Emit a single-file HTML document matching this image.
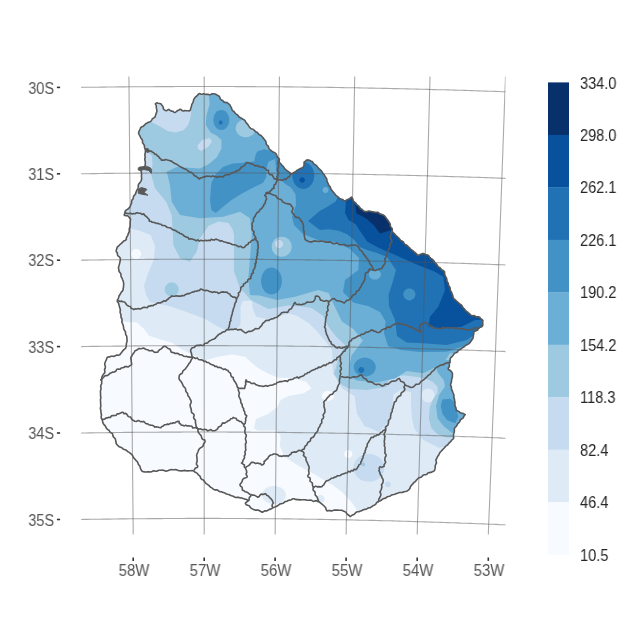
<!DOCTYPE html>
<html><head><meta charset="utf-8"><style>
html,body{margin:0;padding:0;background:#fff;}
body{width:630px;height:630px;position:relative;overflow:hidden;font-family:"Liberation Sans",sans-serif;}
svg{position:absolute;left:0;top:0;}
.yl{position:absolute;left:0;width:54.2px;text-align:right;font-size:15.6px;line-height:17px;color:#555555;transform:scaleX(0.935);transform-origin:100% 0;will-change:transform;}
.xl{position:absolute;top:561.8px;width:60px;text-align:center;font-size:15.6px;line-height:17px;color:#555555;transform:scaleX(0.96);transform-origin:50% 0;will-change:transform;}
.ll{position:absolute;left:579.5px;font-size:15.6px;line-height:17px;color:#262626;transform:scaleX(0.935);transform-origin:0 0;will-change:transform;}
</style></head><body>
<svg width="630" height="630" viewBox="0 0 630 630">
<defs><clipPath id="pc"><rect x="81.2" y="76.5" width="424.3" height="458.0"/></clipPath><clipPath id="cc"><polygon points="155.7,103.9 157.6,102.6 160.8,103.9 162.7,105.8 163.3,109.0 166.5,110.9 169.0,109.6 172.2,110.9 174.1,112.8 177.3,110.9 180.5,109.0 183.0,111.5 184.9,110.2 188.1,111.5 190.6,109.6 191.9,104.5 194.4,98.2 197.0,95.6 198.9,93.7 202.1,94.3 204.6,93.7 208.4,95.0 212.2,93.7 216.0,94.3 219.2,96.3 221.1,100.1 226.2,102.6 230.0,104.5 231.7,109.4 238.3,116.1 245.0,120.6 249.4,127.2 256.1,131.7 263.9,138.3 267.2,145.0 270.0,150.0 275.6,153.3 278.9,158.9 279.4,162.2 282.2,165.6 286.7,170.6 291.7,173.9 295.6,171.7 298.9,168.9 302.2,168.3 304.4,164.4 303.9,162.2 306.7,160.0 309.5,160.0 314.3,163.8 321.0,170.5 325.7,177.1 328.6,184.8 333.3,192.4 339.0,198.1 345.7,201.0 351.4,197.1 354.3,201.9 358.1,205.7 363.8,211.4 369.5,211.4 377.1,212.4 383.8,215.2 388.6,221.0 391.4,227.6 392.8,232.2 400.6,240.0 409.4,247.8 418.3,255.6 422.8,253.3 428.3,255.6 433.9,261.1 438.3,266.7 443.9,271.1 447.2,281.1 450.6,290.0 453.9,298.9 460.6,304.4 466.1,311.1 471.7,315.6 478.3,316.7 482.8,320.0 482.8,325.6 478.3,328.9 473.9,332.2 472.8,338.9 469.4,343.3 463.9,346.7 455.0,353.3 450.6,357.8 449.4,364.4 448.3,368.9 452.8,373.3 451.7,380.0 450.6,385.6 453.9,395.6 455.0,404.4 456.1,410.0 461.7,413.3 465.6,414.4 458.9,422.2 454.4,428.9 453.3,438.9 447.8,444.4 441.1,451.1 436.7,457.8 435.6,465.6 434.4,471.1 427.8,473.3 418.9,477.8 412.2,484.4 407.8,491.1 396.7,493.3 387.8,496.7 378.9,501.1 372.2,506.7 363.3,510.0 356.7,512.2 350.0,516.7 345.6,512.2 341.5,510.2 334.5,510.2 327.5,511.1 324.1,505.9 318.8,501.5 311.8,500.6 304.8,499.8 299.6,499.8 292.6,498.9 283.9,502.4 276.9,505.9 269.9,509.4 262.9,512.0 257.7,510.2 252.5,509.4 249.0,505.9 244.6,503.3 249.0,500.6 242.0,498.0 235.0,497.1 228.3,494.4 219.4,491.1 212.8,488.9 206.1,483.3 201.7,478.9 197.2,473.3 192.8,470.7 179.4,470.7 172.8,469.3 166.1,471.1 161.7,470.0 155.0,471.1 146.1,472.2 141.7,471.1 138.3,463.3 133.9,457.8 130.6,453.3 127.2,451.1 121.7,447.8 117.2,445.6 115.0,438.9 111.7,433.3 106.1,427.8 102.8,422.2 101.7,418.9 100.6,408.9 100.6,400.0 100.6,389.4 101.7,381.7 101.7,377.2 105.0,371.7 105.0,362.8 107.2,357.2 119.4,355.0 126.1,347.2 127.2,338.3 122.8,325.0 120.6,313.9 119.4,305.0 117.2,301.7 119.4,295.0 122.8,290.6 123.9,283.9 121.7,277.2 118.3,268.3 120.6,259.4 116.1,251.7 117.2,247.2 120.6,243.9 126.1,239.4 129.4,230.6 130.6,219.4 128.3,216.1 123.9,215.0 125.0,211.7 130.6,206.1 132.1,200.0 134.5,195.2 137.9,188.6 138.3,184.8 141.2,181.0 141.7,176.2 141.2,171.4 139.3,168.1 146.0,165.7 145.0,162.9 145.0,154.3 145.5,149.5 144.0,145.7 142.1,140.0 139.8,135.8 138.3,132.6 140.6,127.9 147.0,123.1 150.0,121.7 155.1,116.6 157.0,111.5"/></clipPath></defs>
<polygon points="155.7,103.9 157.6,102.6 160.8,103.9 162.7,105.8 163.3,109.0 166.5,110.9 169.0,109.6 172.2,110.9 174.1,112.8 177.3,110.9 180.5,109.0 183.0,111.5 184.9,110.2 188.1,111.5 190.6,109.6 191.9,104.5 194.4,98.2 197.0,95.6 198.9,93.7 202.1,94.3 204.6,93.7 208.4,95.0 212.2,93.7 216.0,94.3 219.2,96.3 221.1,100.1 226.2,102.6 230.0,104.5 231.7,109.4 238.3,116.1 245.0,120.6 249.4,127.2 256.1,131.7 263.9,138.3 267.2,145.0 270.0,150.0 275.6,153.3 278.9,158.9 279.4,162.2 282.2,165.6 286.7,170.6 291.7,173.9 295.6,171.7 298.9,168.9 302.2,168.3 304.4,164.4 303.9,162.2 306.7,160.0 309.5,160.0 314.3,163.8 321.0,170.5 325.7,177.1 328.6,184.8 333.3,192.4 339.0,198.1 345.7,201.0 351.4,197.1 354.3,201.9 358.1,205.7 363.8,211.4 369.5,211.4 377.1,212.4 383.8,215.2 388.6,221.0 391.4,227.6 392.8,232.2 400.6,240.0 409.4,247.8 418.3,255.6 422.8,253.3 428.3,255.6 433.9,261.1 438.3,266.7 443.9,271.1 447.2,281.1 450.6,290.0 453.9,298.9 460.6,304.4 466.1,311.1 471.7,315.6 478.3,316.7 482.8,320.0 482.8,325.6 478.3,328.9 473.9,332.2 472.8,338.9 469.4,343.3 463.9,346.7 455.0,353.3 450.6,357.8 449.4,364.4 448.3,368.9 452.8,373.3 451.7,380.0 450.6,385.6 453.9,395.6 455.0,404.4 456.1,410.0 461.7,413.3 465.6,414.4 458.9,422.2 454.4,428.9 453.3,438.9 447.8,444.4 441.1,451.1 436.7,457.8 435.6,465.6 434.4,471.1 427.8,473.3 418.9,477.8 412.2,484.4 407.8,491.1 396.7,493.3 387.8,496.7 378.9,501.1 372.2,506.7 363.3,510.0 356.7,512.2 350.0,516.7 345.6,512.2 341.5,510.2 334.5,510.2 327.5,511.1 324.1,505.9 318.8,501.5 311.8,500.6 304.8,499.8 299.6,499.8 292.6,498.9 283.9,502.4 276.9,505.9 269.9,509.4 262.9,512.0 257.7,510.2 252.5,509.4 249.0,505.9 244.6,503.3 249.0,500.6 242.0,498.0 235.0,497.1 228.3,494.4 219.4,491.1 212.8,488.9 206.1,483.3 201.7,478.9 197.2,473.3 192.8,470.7 179.4,470.7 172.8,469.3 166.1,471.1 161.7,470.0 155.0,471.1 146.1,472.2 141.7,471.1 138.3,463.3 133.9,457.8 130.6,453.3 127.2,451.1 121.7,447.8 117.2,445.6 115.0,438.9 111.7,433.3 106.1,427.8 102.8,422.2 101.7,418.9 100.6,408.9 100.6,400.0 100.6,389.4 101.7,381.7 101.7,377.2 105.0,371.7 105.0,362.8 107.2,357.2 119.4,355.0 126.1,347.2 127.2,338.3 122.8,325.0 120.6,313.9 119.4,305.0 117.2,301.7 119.4,295.0 122.8,290.6 123.9,283.9 121.7,277.2 118.3,268.3 120.6,259.4 116.1,251.7 117.2,247.2 120.6,243.9 126.1,239.4 129.4,230.6 130.6,219.4 128.3,216.1 123.9,215.0 125.0,211.7 130.6,206.1 132.1,200.0 134.5,195.2 137.9,188.6 138.3,184.8 141.2,181.0 141.7,176.2 141.2,171.4 139.3,168.1 146.0,165.7 145.0,162.9 145.0,154.3 145.5,149.5 144.0,145.7 142.1,140.0 139.8,135.8 138.3,132.6 140.6,127.9 147.0,123.1 150.0,121.7 155.1,116.6 157.0,111.5" fill="#F7FBFF"/>
<g clip-path="url(#cc)">
<path d="M60.0,60.0 520.0,60.0 520.0,540.0 60.0,540.0Z" fill="#DEEBF7"/>
<path d="M60.0,300.0 90.0,321.0 122.9,321.7 136.9,322.6 143.9,328.7 149.1,335.7 159.6,339.2 171.8,342.7 182.3,349.7 192.8,354.9 205.0,360.2 218.3,356.7 231.7,354.4 245.0,356.7 256.1,366.7 267.2,373.3 278.3,377.8 293.6,378.1 306.3,381.9 311.4,388.3 303.7,393.3 288.5,395.9 280.7,400.0 276.9,407.6 267.4,414.3 256.0,419.0 254.0,428.6 257.9,430.5 276.0,430.5 280.7,436.2 279.8,445.7 284.5,457.1 300.0,466.7 311.1,472.2 322.2,478.9 333.3,485.6 342.2,492.2 348.9,498.9 353.3,504.4 356.7,510.0 358.0,520.0 360.0,540.0 60.0,540.0Z" fill="#F7FBFF"/>
<path d="M333.9,395.9 333.7,397.2 333.1,398.4 332.1,399.4 330.9,400.2 329.5,400.7 327.9,400.9 326.3,400.7 324.9,400.2 323.7,399.4 322.7,398.4 322.1,397.2 321.9,395.9 322.1,394.6 322.7,393.4 323.7,392.4 324.9,391.6 326.3,391.1 327.9,390.9 329.5,391.1 330.9,391.6 332.1,392.4 333.1,393.4 333.7,394.6Z" fill="#F7FBFF"/>
<path d="M352.3,454.0 352.2,455.0 351.8,456.0 351.1,456.8 350.3,457.5 349.3,457.9 348.3,458.0 347.3,457.9 346.3,457.5 345.5,456.8 344.8,456.0 344.4,455.0 344.3,454.0 344.4,453.0 344.8,452.0 345.5,451.2 346.3,450.5 347.3,450.1 348.3,450.0 349.3,450.1 350.3,450.5 351.1,451.2 351.8,452.0 352.2,453.0Z" fill="#F7FBFF"/>
<path d="M286.0,495.0 285.6,497.3 284.4,499.5 282.5,501.4 280.0,502.8 277.1,503.7 274.0,504.0 270.9,503.7 268.0,502.8 265.5,501.4 263.6,499.5 262.4,497.3 262.0,495.0 262.4,492.7 263.6,490.5 265.5,488.6 268.0,487.2 270.9,486.3 274.0,486.0 277.1,486.3 280.0,487.2 282.5,488.6 284.4,490.5 285.6,492.7Z" fill="#DEEBF7"/>
<path d="M324.6,498.9 324.5,499.9 324.1,500.9 323.4,501.7 322.6,502.4 321.6,502.8 320.6,502.9 319.6,502.8 318.6,502.4 317.8,501.7 317.1,500.9 316.7,499.9 316.6,498.9 316.7,497.9 317.1,496.9 317.8,496.1 318.6,495.4 319.6,495.0 320.6,494.9 321.6,495.0 322.6,495.4 323.4,496.1 324.1,496.9 324.5,497.9Z" fill="#DEEBF7"/>
<path d="M90.0,228.0 128.3,228.3 139.4,230.6 150.6,235.0 155.0,246.1 153.9,259.4 148.3,272.8 143.9,286.1 146.1,295.0 150.0,302.0 171.7,306.7 195.0,315.0 205.0,318.9 218.3,326.7 227.2,331.1 236.1,330.0 240.6,324.4 240.6,306.7 242.8,301.1 251.7,300.4 252.8,308.9 256.1,316.7 267.2,318.9 280.0,315.7 288.6,313.6 297.1,315.7 308.6,322.9 317.1,331.4 325.7,341.4 332.0,350.0 332.9,373.0 341.8,388.3 354.5,395.9 357.0,413.7 364.7,426.3 370.0,428.0 378.9,432.2 387.8,422.2 392.2,408.9 393.3,395.0 400.0,390.0 411.0,392.0 411.0,405.0 412.2,420.0 414.4,428.9 423.3,440.0 438.9,447.8 455.0,445.0 470.0,440.0 520.0,440.0 520.0,60.0 90.0,60.0Z" fill="#C6DBEF"/>
<path d="M384.4,467.8 383.9,471.4 382.3,474.8 379.9,477.7 376.6,479.9 372.9,481.3 368.9,481.8 364.9,481.3 361.1,479.9 357.9,477.7 355.5,474.8 353.9,471.4 353.4,467.8 353.9,464.2 355.5,460.8 357.9,457.9 361.1,455.7 364.9,454.3 368.9,453.8 372.9,454.3 376.6,455.7 379.9,457.9 382.3,460.8 383.9,464.2Z" fill="#C6DBEF"/>
<path d="M390.8,484.4 390.7,485.2 390.4,485.9 389.9,486.5 389.3,487.0 388.6,487.3 387.8,487.4 387.0,487.3 386.3,487.0 385.7,486.5 385.2,485.9 384.9,485.2 384.8,484.4 384.9,483.6 385.2,482.9 385.7,482.3 386.3,481.8 387.0,481.5 387.8,481.4 388.6,481.5 389.3,481.8 389.9,482.3 390.4,482.9 390.7,483.6Z" fill="#C6DBEF"/>
<path d="M141.1,253.9 140.9,255.2 140.4,256.4 139.6,257.4 138.6,258.2 137.4,258.7 136.1,258.9 134.8,258.7 133.6,258.2 132.6,257.4 131.8,256.4 131.3,255.2 131.1,253.9 131.3,252.6 131.8,251.4 132.6,250.4 133.6,249.6 134.8,249.1 136.1,248.9 137.4,249.1 138.6,249.6 139.6,250.4 140.4,251.4 140.9,252.6Z" fill="#F7FBFF"/>
<path d="M434.5,395.5 434.3,397.3 433.6,399.0 432.6,400.4 431.2,401.6 429.7,402.3 428.0,402.5 426.3,402.3 424.8,401.6 423.4,400.4 422.4,399.0 421.7,397.3 421.5,395.5 421.7,393.7 422.4,392.0 423.4,390.6 424.8,389.4 426.3,388.7 428.0,388.5 429.7,388.7 431.2,389.4 432.6,390.6 433.6,392.0 434.3,393.7Z" fill="#DEEBF7"/>
<path d="M193.0,60.0 520.0,60.0 520.0,437.0 460.0,437.0 447.1,437.5 437.6,434.4 431.3,428.0 428.9,418.5 429.7,407.4 432.9,399.4 437.6,393.1 437.6,386.7 432.9,382.0 426.5,378.8 418.6,377.2 405.9,375.6 390.0,376.0 386.7,386.7 366.7,390.0 350.0,389.0 342.0,385.0 334.0,374.0 338.0,360.0 345.0,345.0 336.2,336.7 328.6,327.1 322.9,315.7 311.4,308.1 300.0,306.2 288.3,305.6 268.3,308.9 250.6,300.0 239.4,286.7 233.9,271.1 233.9,244.4 234.0,235.0 232.9,230.0 228.6,222.9 218.6,221.4 208.6,225.7 200.0,238.3 196.7,251.7 190.0,261.7 180.0,258.3 173.3,245.0 172.8,232.8 171.7,215.0 166.1,201.7 155.0,188.3 151.0,173.9 152.5,164.4 152.0,156.0 146.0,150.0 140.0,135.0 130.0,125.5 142.2,125.5 151.7,122.3 159.7,126.3 167.6,131.0 175.6,132.6 183.5,130.2 188.3,124.7 190.6,116.7 191.4,110.4 193.0,95.0Z" fill="#9ECAE1"/>
<path d="M178.7,289.4 178.5,291.2 177.8,292.9 176.6,294.3 175.2,295.5 173.5,296.2 171.7,296.4 169.9,296.2 168.2,295.5 166.8,294.3 165.6,292.9 164.9,291.2 164.7,289.4 164.9,287.6 165.6,285.9 166.8,284.5 168.2,283.3 169.9,282.6 171.7,282.4 173.5,282.6 175.2,283.3 176.6,284.5 177.8,285.9 178.5,287.6Z" fill="#9ECAE1"/>
<path d="M365.3,464.4 365.2,464.9 365.0,465.4 364.7,465.8 364.3,466.1 363.8,466.3 363.3,466.4 362.8,466.3 362.3,466.1 361.9,465.8 361.6,465.4 361.4,464.9 361.3,464.4 361.4,463.9 361.6,463.4 361.9,463.0 362.3,462.7 362.8,462.5 363.3,462.4 363.8,462.5 364.3,462.7 364.7,463.0 365.0,463.4 365.2,463.9Z" fill="#9ECAE1"/>
<path d="M197.8,145.3 202.5,139.8 209.7,138.2 212.1,141.3 208.1,146.9 201.0,150.9 197.8,148.5Z" fill="#C6DBEF"/>
<path d="M208.0,60.0 520.0,60.0 520.0,350.0 450.0,353.3 443.3,363.3 423.3,373.3 406.7,371.0 395.2,378.6 376.2,382.4 357.1,380.5 349.5,376.7 349.5,365.2 351.4,355.7 357.1,348.1 362.9,340.5 353.3,329.0 341.9,321.4 334.0,305.0 328.6,292.9 318.3,290.0 295.0,296.7 277.2,300.0 259.4,295.6 250.0,295.0 248.3,278.3 250.0,258.3 251.7,235.0 250.0,218.3 240.0,211.7 223.3,216.7 200.0,218.3 180.0,215.0 171.7,201.7 170.0,185.0 166.7,171.7 176.7,167.0 200.0,168.6 208.6,164.3 217.1,157.1 221.4,148.6 221.4,140.0 216.8,135.8 210.5,132.6 205.7,124.7 206.5,115.2 209.7,104.0 208.9,94.5Z" fill="#6BAED6"/>
<path d="M436.0,366.1 437.6,372.5 444.0,380.4 444.8,386.7 439.2,394.7 436.0,405.8 437.6,418.5 444.0,426.4 451.9,432.8 470.0,433.0 470.0,360.0 436.0,360.0Z" fill="#6BAED6"/>
<path d="M255.7,128.3 255.4,130.6 254.4,132.8 252.8,134.7 250.7,136.1 248.3,137.0 245.7,137.3 243.1,137.0 240.7,136.1 238.6,134.7 237.0,132.8 236.0,130.6 235.7,128.3 236.0,126.0 237.0,123.8 238.6,121.9 240.7,120.5 243.1,119.6 245.7,119.3 248.3,119.6 250.7,120.5 252.8,121.9 254.4,123.8 255.4,126.0Z" fill="#9ECAE1"/>
<path d="M291.7,246.7 291.4,249.3 290.4,251.7 288.8,253.8 286.7,255.4 284.3,256.4 281.7,256.7 279.1,256.4 276.7,255.4 274.6,253.8 273.0,251.7 272.0,249.3 271.7,246.7 272.0,244.1 273.0,241.7 274.6,239.6 276.7,238.0 279.1,237.0 281.7,236.7 284.3,237.0 286.7,238.0 288.8,239.6 290.4,241.7 291.4,244.1Z" fill="#9ECAE1"/>
<path d="M283.0,244.0 282.9,245.0 282.5,246.0 281.8,246.8 281.0,247.5 280.0,247.9 279.0,248.0 278.0,247.9 277.0,247.5 276.2,246.8 275.5,246.0 275.1,245.0 275.0,244.0 275.1,243.0 275.5,242.0 276.2,241.2 277.0,240.5 278.0,240.1 279.0,240.0 280.0,240.1 281.0,240.5 281.8,241.2 282.5,242.0 282.9,243.0Z" fill="#C6DBEF"/>
<path d="M229.3,120.0 229.0,122.6 228.2,125.0 227.0,127.1 225.3,128.7 223.4,129.7 221.3,130.0 219.2,129.7 217.3,128.7 215.6,127.1 214.4,125.0 213.6,122.6 213.3,120.0 213.6,117.4 214.4,115.0 215.6,112.9 217.3,111.3 219.2,110.3 221.3,110.0 223.4,110.3 225.3,111.3 227.0,112.9 228.2,115.0 229.0,117.4Z" fill="#4292C6"/>
<path d="M255.0,157.1 257.1,151.4 264.3,149.3 272.9,151.4 277.9,157.1 274.3,159.3 268.6,161.4 266.4,168.6 266.4,177.1 262.9,182.9 254.3,187.1 242.9,192.9 231.4,200.0 222.9,207.1 215.7,212.9 211.4,210.0 210.0,200.0 211.4,182.9 215.7,174.3 222.9,167.1 232.9,163.6 241.4,162.9 248.6,162.1 254.3,161.4Z" fill="#4292C6"/>
<path d="M275.0,158.0 277.0,176.0 284.4,183.3 291.1,187.8 295.6,194.4 296.0,205.0 292.0,217.0 294.0,225.0 303.0,234.0 318.0,240.0 335.0,242.0 350.0,249.0 359.0,258.0 358.3,270.0 345.0,280.0 343.0,292.0 353.3,302.4 368.6,306.2 380.0,311.9 385.7,321.4 384.0,333.0 388.0,346.0 401.0,350.0 420.0,352.0 446.7,351.7 461.7,346.7 478.0,338.0 520.0,330.0 520.0,140.0 282.0,140.0Z" fill="#4292C6"/>
<path d="M282.0,281.0 281.6,284.5 280.6,287.8 278.9,290.5 276.8,292.7 274.2,294.0 271.5,294.5 268.8,294.0 266.2,292.7 264.1,290.5 262.4,287.8 261.4,284.5 261.0,281.0 261.4,277.5 262.4,274.2 264.1,271.5 266.2,269.3 268.8,268.0 271.5,267.5 274.2,268.0 276.8,269.3 278.9,271.5 280.6,274.2 281.6,277.5Z" fill="#4292C6"/>
<path d="M375.8,367.1 375.4,369.6 374.3,371.9 372.6,373.8 370.3,375.3 367.6,376.3 364.8,376.6 362.0,376.3 359.3,375.3 357.0,373.8 355.3,371.9 354.2,369.6 353.8,367.1 354.2,364.6 355.3,362.4 357.0,360.4 359.3,358.9 362.0,357.9 364.8,357.6 367.6,357.9 370.3,358.9 372.6,360.4 374.3,362.4 375.4,364.6Z" fill="#4292C6"/>
<path d="M442.4,399.4 450.3,398.7 455.1,402.6 456.7,410.6 458.3,416.9 455.1,423.3 447.1,420.1 442.4,413.7 440.8,405.8Z" fill="#4292C6"/>
<path d="M380.9,274.6 380.7,275.9 380.1,277.1 379.1,278.1 377.9,278.9 376.5,279.4 374.9,279.6 373.3,279.4 371.9,278.9 370.7,278.1 369.7,277.1 369.1,275.9 368.9,274.6 369.1,273.3 369.7,272.1 370.7,271.1 371.9,270.3 373.3,269.8 374.9,269.6 376.5,269.8 377.9,270.3 379.1,271.1 380.1,272.1 380.7,273.3Z" fill="#6BAED6"/>
<path d="M328.5,190.0 328.4,190.8 328.1,191.5 327.6,192.1 327.0,192.6 326.3,192.9 325.5,193.0 324.7,192.9 324.0,192.6 323.4,192.1 322.9,191.5 322.6,190.8 322.5,190.0 322.6,189.2 322.9,188.5 323.4,187.9 324.0,187.4 324.7,187.1 325.5,187.0 326.3,187.1 327.0,187.4 327.6,187.9 328.1,188.5 328.4,189.2Z" fill="#6BAED6"/>
<path d="M314.3,175.5 313.9,179.0 312.8,182.2 311.1,185.0 308.8,187.2 306.1,188.5 303.3,189.0 300.5,188.5 297.8,187.2 295.5,185.0 293.8,182.2 292.7,179.0 292.3,175.5 292.7,172.0 293.8,168.8 295.5,166.0 297.8,163.8 300.5,162.5 303.3,162.0 306.1,162.5 308.8,163.8 311.1,166.0 312.8,168.8 313.9,172.0Z" fill="#2171B5"/>
<path d="M364.3,370.0 364.2,370.8 363.9,371.5 363.4,372.1 362.8,372.6 362.1,372.9 361.3,373.0 360.5,372.9 359.8,372.6 359.2,372.1 358.7,371.5 358.4,370.8 358.3,370.0 358.4,369.2 358.7,368.5 359.2,367.9 359.8,367.4 360.5,367.1 361.3,367.0 362.1,367.1 362.8,367.4 363.4,367.9 363.9,368.5 364.2,369.2Z" fill="#2171B5"/>
<path d="M222.7,122.5 222.6,123.0 222.4,123.5 222.1,123.9 221.7,124.2 221.2,124.4 220.7,124.5 220.2,124.4 219.7,124.2 219.3,123.9 219.0,123.5 218.8,123.0 218.7,122.5 218.8,122.0 219.0,121.5 219.3,121.1 219.7,120.8 220.2,120.6 220.7,120.5 221.2,120.6 221.7,120.8 222.1,121.1 222.4,121.5 222.6,122.0Z" fill="#2171B5"/>
<path d="M308.0,221.0 320.0,210.7 327.1,207.1 335.7,201.4 345.0,180.0 520.0,180.0 520.0,330.0 478.0,332.0 466.7,340.0 446.7,345.0 423.3,343.3 406.7,342.4 397.0,336.0 395.0,320.0 389.0,306.0 388.6,294.8 393.0,281.0 396.0,270.0 387.1,257.1 377.1,252.9 367.1,250.0 360.0,247.1 354.3,240.0 347.1,234.3 338.6,230.7 328.6,229.3 320.0,230.0Z" fill="#2171B5"/>
<path d="M415.4,294.4 415.2,296.0 414.6,297.4 413.6,298.6 412.4,299.6 411.0,300.2 409.4,300.4 407.8,300.2 406.4,299.6 405.2,298.6 404.2,297.4 403.6,296.0 403.4,294.4 403.6,292.8 404.2,291.4 405.2,290.2 406.4,289.2 407.8,288.6 409.4,288.4 411.0,288.6 412.4,289.2 413.6,290.2 414.6,291.4 415.2,292.8Z" fill="#4292C6"/>
<path d="M304.9,180.0 304.8,180.7 304.5,181.3 304.1,181.9 303.6,182.3 302.9,182.6 302.2,182.7 301.5,182.6 300.8,182.3 300.3,181.9 299.9,181.3 299.6,180.7 299.5,180.0 299.6,179.3 299.9,178.7 300.3,178.1 300.8,177.7 301.5,177.4 302.2,177.3 302.9,177.4 303.6,177.7 304.1,178.1 304.5,178.7 304.8,179.3Z" fill="#08519C"/>
<path d="M346.0,180.0 345.7,205.7 345.0,212.9 348.6,220.0 355.7,224.3 361.4,232.9 367.1,241.4 377.1,247.1 387.1,251.4 397.1,255.7 410.0,261.4 415.0,263.8 435.0,271.7 443.3,276.7 445.0,290.0 438.3,306.7 430.0,316.7 428.3,326.7 441.7,328.3 461.7,326.7 475.0,320.0 520.0,320.0 520.0,180.0Z" fill="#08519C"/>
<path d="M355.0,200.0 395.0,200.0 395.0,232.0 391.4,230.0 380.0,233.6 374.3,225.7 367.1,219.3 361.4,215.7 356.4,213.6Z" fill="#08306B"/>
</g>
<g clip-path="url(#pc)" fill="none" stroke="#555555" stroke-opacity="0.5" stroke-width="1.1">
<polyline points="50.9,-84.9 51.0,-81.0 51.0,-77.1 51.1,-73.2 51.2,-69.3 51.2,-65.4 51.3,-61.5 51.4,-57.6 51.4,-53.7 51.5,-49.8 51.6,-45.9 51.6,-42.0 51.7,-38.1 51.8,-34.2 51.8,-30.3 51.9,-26.3 52.0,-22.4 52.0,-18.5 52.1,-14.6 52.1,-10.7 52.2,-6.8 52.3,-2.9 52.3,1.0 52.4,4.9 52.5,8.8 52.5,12.7 52.6,16.6 52.7,20.5 52.7,24.4 52.8,28.3 52.9,32.2 52.9,36.2 53.0,40.1 53.1,44.0 53.1,47.9 53.2,51.8 53.3,55.7 53.4,59.6 53.4,63.5 53.5,67.4 53.6,71.3 53.6,75.2 53.7,79.1 53.8,83.0 53.8,86.9 53.9,90.8 54.0,94.8 54.0,98.7 54.1,102.6 54.2,106.5 54.2,110.4 54.3,114.3 54.4,118.2 54.4,122.1 54.5,126.0 54.6,129.9 54.7,133.8 54.7,137.7 54.8,141.6 54.9,145.5 54.9,149.4 55.0,153.4 55.1,157.3 55.1,161.2 55.2,165.1 55.3,169.0 55.3,172.9 55.4,176.8 55.5,180.7 55.6,184.6 55.6,188.5 55.7,192.4 55.8,196.3 55.8,200.2 55.9,204.1 56.0,208.1 56.1,212.0 56.1,215.9 56.2,219.8 56.3,223.7 56.3,227.6 56.4,231.5 56.5,235.4 56.6,239.3 56.6,243.2 56.7,247.1 56.8,251.0 56.8,254.9 56.9,258.9 57.0,262.8 57.1,266.7 57.1,270.6 57.2,274.5 57.3,278.4 57.4,282.3 57.4,286.2 57.5,290.1 57.6,294.0 57.6,297.9 57.7,301.8 57.8,305.7 57.9,309.7 57.9,313.6 58.0,317.5 58.1,321.4 58.2,325.3 58.2,329.2 58.3,333.1 58.4,337.0 58.5,340.9 58.5,344.8 58.6,348.7 58.7,352.6 58.8,356.5 58.8,360.5 58.9,364.4 59.0,368.3 59.1,372.2 59.1,376.1 59.2,380.0 59.3,383.9 59.4,387.8 59.4,391.7 59.5,395.6 59.6,399.5 59.7,403.5 59.7,407.4 59.8,411.3 59.9,415.2 60.0,419.1 60.0,423.0 60.1,426.9 60.2,430.8 60.3,434.7 60.3,438.6 60.4,442.5 60.5,446.4 60.6,450.4 60.6,454.3 60.7,458.2 60.8,462.1 60.9,466.0 61.0,469.9 61.0,473.8 61.1,477.7 61.2,481.6 61.3,485.5 61.3,489.4 61.4,493.4 61.5,497.3 61.6,501.2 61.6,505.1 61.7,509.0 61.8,512.9 61.9,516.8 62.0,520.7 62.0,524.6 62.1,528.5 62.2,532.4 62.3,536.4 62.4,540.3 62.4,544.2 62.5,548.1 62.6,552.0 62.7,555.9 62.7,559.8 62.8,563.7 62.9,567.6 63.0,571.5 63.1,575.5 63.1,579.4 63.2,583.3 63.3,587.2 63.4,591.1 63.5,595.0 63.5,598.9 63.6,602.8 63.7,606.7 63.8,610.6 63.9,614.6 63.9,618.5 64.0,622.4 64.1,626.3 64.2,630.2 64.3,634.1 64.4,638.0 64.4,641.9 64.5,645.8 64.6,649.7 64.7,653.7 64.8,657.6 64.8,661.5 64.9,665.4 65.0,669.3 65.1,673.2 65.2,677.1 65.2,681.0 65.3,684.9 65.4,688.8 65.5,692.8"/>
<polyline points="127.6,-85.9 127.6,-82.0 127.6,-78.1 127.7,-74.2 127.7,-70.3 127.7,-66.3 127.7,-62.4 127.8,-58.5 127.8,-54.6 127.8,-50.7 127.9,-46.8 127.9,-42.9 127.9,-39.0 128.0,-35.1 128.0,-31.2 128.0,-27.3 128.1,-23.4 128.1,-19.5 128.1,-15.6 128.2,-11.7 128.2,-7.8 128.2,-3.9 128.3,0.0 128.3,3.9 128.3,7.8 128.4,11.7 128.4,15.7 128.4,19.6 128.5,23.5 128.5,27.4 128.5,31.3 128.6,35.2 128.6,39.1 128.6,43.0 128.7,46.9 128.7,50.8 128.7,54.7 128.8,58.6 128.8,62.5 128.8,66.4 128.9,70.3 128.9,74.2 128.9,78.1 129.0,82.0 129.0,86.0 129.0,89.9 129.1,93.8 129.1,97.7 129.1,101.6 129.2,105.5 129.2,109.4 129.2,113.3 129.3,117.2 129.3,121.1 129.4,125.0 129.4,128.9 129.4,132.8 129.5,136.7 129.5,140.6 129.5,144.5 129.6,148.4 129.6,152.4 129.6,156.3 129.7,160.2 129.7,164.1 129.7,168.0 129.8,171.9 129.8,175.8 129.8,179.7 129.9,183.6 129.9,187.5 129.9,191.4 130.0,195.3 130.0,199.2 130.1,203.1 130.1,207.0 130.1,210.9 130.2,214.9 130.2,218.8 130.2,222.7 130.3,226.6 130.3,230.5 130.3,234.4 130.4,238.3 130.4,242.2 130.4,246.1 130.5,250.0 130.5,253.9 130.6,257.8 130.6,261.7 130.6,265.6 130.7,269.6 130.7,273.5 130.7,277.4 130.8,281.3 130.8,285.2 130.8,289.1 130.9,293.0 130.9,296.9 131.0,300.8 131.0,304.7 131.0,308.6 131.1,312.5 131.1,316.4 131.1,320.3 131.2,324.3 131.2,328.2 131.2,332.1 131.3,336.0 131.3,339.9 131.4,343.8 131.4,347.7 131.4,351.6 131.5,355.5 131.5,359.4 131.5,363.3 131.6,367.2 131.6,371.1 131.7,375.0 131.7,379.0 131.7,382.9 131.8,386.8 131.8,390.7 131.8,394.6 131.9,398.5 131.9,402.4 132.0,406.3 132.0,410.2 132.0,414.1 132.1,418.0 132.1,421.9 132.1,425.9 132.2,429.8 132.2,433.7 132.3,437.6 132.3,441.5 132.3,445.4 132.4,449.3 132.4,453.2 132.5,457.1 132.5,461.0 132.5,464.9 132.6,468.8 132.6,472.7 132.6,476.7 132.7,480.6 132.7,484.5 132.8,488.4 132.8,492.3 132.8,496.2 132.9,500.1 132.9,504.0 133.0,507.9 133.0,511.8 133.0,515.7 133.1,519.7 133.1,523.6 133.2,527.5 133.2,531.4 133.2,535.3 133.3,539.2 133.3,543.1 133.3,547.0 133.4,550.9 133.4,554.8 133.5,558.7 133.5,562.6 133.5,566.6 133.6,570.5 133.6,574.4 133.7,578.3 133.7,582.2 133.7,586.1 133.8,590.0 133.8,593.9 133.9,597.8 133.9,601.7 133.9,605.7 134.0,609.6 134.0,613.5 134.1,617.4 134.1,621.3 134.1,625.2 134.2,629.1 134.2,633.0 134.3,636.9 134.3,640.8 134.3,644.7 134.4,648.7 134.4,652.6 134.5,656.5 134.5,660.4 134.6,664.3 134.6,668.2 134.6,672.1 134.7,676.0 134.7,679.9 134.8,683.8 134.8,687.8 134.8,691.7"/>
<polyline points="204.2,-86.2 204.2,-82.3 204.2,-78.4 204.2,-74.5 204.2,-70.6 204.2,-66.7 204.2,-62.8 204.2,-58.9 204.2,-55.0 204.2,-51.0 204.2,-47.1 204.2,-43.2 204.2,-39.3 204.2,-35.4 204.2,-31.5 204.2,-27.6 204.2,-23.7 204.2,-19.8 204.2,-15.9 204.2,-12.0 204.2,-8.1 204.2,-4.2 204.2,-0.3 204.2,3.6 204.2,7.5 204.2,11.4 204.2,15.3 204.2,19.2 204.2,23.1 204.2,27.0 204.2,31.0 204.2,34.9 204.2,38.8 204.2,42.7 204.2,46.6 204.2,50.5 204.2,54.4 204.2,58.3 204.2,62.2 204.2,66.1 204.2,70.0 204.2,73.9 204.2,77.8 204.2,81.7 204.2,85.6 204.2,89.5 204.2,93.4 204.2,97.3 204.2,101.2 204.2,105.2 204.2,109.1 204.2,113.0 204.2,116.9 204.2,120.8 204.2,124.7 204.2,128.6 204.2,132.5 204.2,136.4 204.2,140.3 204.2,144.2 204.2,148.1 204.2,152.0 204.2,155.9 204.2,159.8 204.2,163.7 204.2,167.6 204.2,171.6 204.2,175.5 204.2,179.4 204.2,183.3 204.2,187.2 204.2,191.1 204.2,195.0 204.2,198.9 204.2,202.8 204.2,206.7 204.2,210.6 204.2,214.5 204.2,218.4 204.2,222.3 204.2,226.2 204.2,230.1 204.2,234.0 204.2,238.0 204.2,241.9 204.2,245.8 204.2,249.7 204.2,253.6 204.2,257.5 204.2,261.4 204.2,265.3 204.2,269.2 204.2,273.1 204.2,277.0 204.2,280.9 204.2,284.8 204.2,288.7 204.2,292.6 204.2,296.6 204.2,300.5 204.2,304.4 204.2,308.3 204.2,312.2 204.2,316.1 204.2,320.0 204.2,323.9 204.2,327.8 204.2,331.7 204.2,335.6 204.2,339.5 204.2,343.4 204.2,347.3 204.2,351.3 204.2,355.2 204.2,359.1 204.2,363.0 204.2,366.9 204.2,370.8 204.2,374.7 204.2,378.6 204.2,382.5 204.2,386.4 204.2,390.3 204.2,394.2 204.2,398.1 204.2,402.1 204.2,406.0 204.2,409.9 204.2,413.8 204.2,417.7 204.2,421.6 204.2,425.5 204.2,429.4 204.2,433.3 204.2,437.2 204.2,441.1 204.2,445.0 204.2,448.9 204.2,452.9 204.2,456.8 204.2,460.7 204.2,464.6 204.2,468.5 204.2,472.4 204.2,476.3 204.2,480.2 204.2,484.1 204.2,488.0 204.2,491.9 204.2,495.8 204.2,499.8 204.2,503.7 204.2,507.6 204.2,511.5 204.2,515.4 204.2,519.3 204.2,523.2 204.2,527.1 204.2,531.0 204.2,534.9 204.2,538.8 204.2,542.7 204.2,546.7 204.2,550.6 204.2,554.5 204.2,558.4 204.2,562.3 204.2,566.2 204.2,570.1 204.2,574.0 204.2,577.9 204.2,581.8 204.2,585.7 204.2,589.7 204.2,593.6 204.2,597.5 204.2,601.4 204.2,605.3 204.2,609.2 204.2,613.1 204.2,617.0 204.2,620.9 204.2,624.8 204.2,628.7 204.2,632.7 204.2,636.6 204.2,640.5 204.2,644.4 204.2,648.3 204.2,652.2 204.2,656.1 204.2,660.0 204.2,663.9 204.2,667.8 204.2,671.8 204.2,675.7 204.2,679.6 204.2,683.5 204.2,687.4 204.2,691.3"/>
<polyline points="280.8,-85.9 280.8,-82.0 280.7,-78.1 280.7,-74.2 280.7,-70.3 280.6,-66.3 280.6,-62.4 280.6,-58.5 280.5,-54.6 280.5,-50.7 280.5,-46.8 280.4,-42.9 280.4,-39.0 280.4,-35.1 280.4,-31.2 280.3,-27.3 280.3,-23.4 280.3,-19.5 280.2,-15.6 280.2,-11.7 280.2,-7.8 280.1,-3.9 280.1,0.0 280.1,3.9 280.0,7.8 280.0,11.7 280.0,15.7 279.9,19.6 279.9,23.5 279.9,27.4 279.8,31.3 279.8,35.2 279.8,39.1 279.7,43.0 279.7,46.9 279.7,50.8 279.6,54.7 279.6,58.6 279.6,62.5 279.5,66.4 279.5,70.3 279.5,74.2 279.4,78.1 279.4,82.0 279.4,86.0 279.3,89.9 279.3,93.8 279.2,97.7 279.2,101.6 279.2,105.5 279.1,109.4 279.1,113.3 279.1,117.2 279.0,121.1 279.0,125.0 279.0,128.9 278.9,132.8 278.9,136.7 278.9,140.6 278.8,144.5 278.8,148.4 278.8,152.4 278.7,156.3 278.7,160.2 278.7,164.1 278.6,168.0 278.6,171.9 278.6,175.8 278.5,179.7 278.5,183.6 278.4,187.5 278.4,191.4 278.4,195.3 278.3,199.2 278.3,203.1 278.3,207.0 278.2,210.9 278.2,214.9 278.2,218.8 278.1,222.7 278.1,226.6 278.1,230.5 278.0,234.4 278.0,238.3 278.0,242.2 277.9,246.1 277.9,250.0 277.8,253.9 277.8,257.8 277.8,261.7 277.7,265.6 277.7,269.6 277.7,273.5 277.6,277.4 277.6,281.3 277.6,285.2 277.5,289.1 277.5,293.0 277.4,296.9 277.4,300.8 277.4,304.7 277.3,308.6 277.3,312.5 277.3,316.4 277.2,320.3 277.2,324.3 277.1,328.2 277.1,332.1 277.1,336.0 277.0,339.9 277.0,343.8 277.0,347.7 276.9,351.6 276.9,355.5 276.9,359.4 276.8,363.3 276.8,367.2 276.7,371.1 276.7,375.0 276.7,379.0 276.6,382.9 276.6,386.8 276.6,390.7 276.5,394.6 276.5,398.5 276.4,402.4 276.4,406.3 276.4,410.2 276.3,414.1 276.3,418.0 276.2,421.9 276.2,425.9 276.2,429.8 276.1,433.7 276.1,437.6 276.1,441.5 276.0,445.4 276.0,449.3 275.9,453.2 275.9,457.1 275.9,461.0 275.8,464.9 275.8,468.8 275.8,472.7 275.7,476.7 275.7,480.6 275.6,484.5 275.6,488.4 275.6,492.3 275.5,496.2 275.5,500.1 275.4,504.0 275.4,507.9 275.4,511.8 275.3,515.7 275.3,519.7 275.2,523.6 275.2,527.5 275.2,531.4 275.1,535.3 275.1,539.2 275.0,543.1 275.0,547.0 275.0,550.9 274.9,554.8 274.9,558.7 274.9,562.6 274.8,566.6 274.8,570.5 274.7,574.4 274.7,578.3 274.7,582.2 274.6,586.1 274.6,590.0 274.5,593.9 274.5,597.8 274.5,601.7 274.4,605.7 274.4,609.6 274.3,613.5 274.3,617.4 274.3,621.3 274.2,625.2 274.2,629.1 274.1,633.0 274.1,636.9 274.1,640.8 274.0,644.7 274.0,648.7 273.9,652.6 273.9,656.5 273.8,660.4 273.8,664.3 273.8,668.2 273.7,672.1 273.7,676.0 273.6,679.9 273.6,683.8 273.6,687.8 273.5,691.7"/>
<polyline points="357.4,-84.9 357.4,-81.0 357.3,-77.1 357.3,-73.2 357.2,-69.3 357.1,-65.4 357.1,-61.5 357.0,-57.6 356.9,-53.7 356.9,-49.8 356.8,-45.9 356.7,-42.0 356.7,-38.1 356.6,-34.2 356.5,-30.3 356.5,-26.3 356.4,-22.4 356.3,-18.5 356.3,-14.6 356.2,-10.7 356.1,-6.8 356.1,-2.9 356.0,1.0 355.9,4.9 355.9,8.8 355.8,12.7 355.7,16.6 355.7,20.5 355.6,24.4 355.5,28.3 355.5,32.2 355.4,36.2 355.3,40.1 355.3,44.0 355.2,47.9 355.1,51.8 355.1,55.7 355.0,59.6 354.9,63.5 354.9,67.4 354.8,71.3 354.7,75.2 354.7,79.1 354.6,83.0 354.5,86.9 354.5,90.8 354.4,94.8 354.3,98.7 354.3,102.6 354.2,106.5 354.1,110.4 354.1,114.3 354.0,118.2 353.9,122.1 353.8,126.0 353.8,129.9 353.7,133.8 353.6,137.7 353.6,141.6 353.5,145.5 353.4,149.4 353.4,153.4 353.3,157.3 353.2,161.2 353.2,165.1 353.1,169.0 353.0,172.9 352.9,176.8 352.9,180.7 352.8,184.6 352.7,188.5 352.7,192.4 352.6,196.3 352.5,200.2 352.4,204.1 352.4,208.1 352.3,212.0 352.2,215.9 352.2,219.8 352.1,223.7 352.0,227.6 351.9,231.5 351.9,235.4 351.8,239.3 351.7,243.2 351.7,247.1 351.6,251.0 351.5,254.9 351.4,258.9 351.4,262.8 351.3,266.7 351.2,270.6 351.2,274.5 351.1,278.4 351.0,282.3 350.9,286.2 350.9,290.1 350.8,294.0 350.7,297.9 350.6,301.8 350.6,305.7 350.5,309.7 350.4,313.6 350.3,317.5 350.3,321.4 350.2,325.3 350.1,329.2 350.1,333.1 350.0,337.0 349.9,340.9 349.8,344.8 349.8,348.7 349.7,352.6 349.6,356.5 349.5,360.5 349.5,364.4 349.4,368.3 349.3,372.2 349.2,376.1 349.2,380.0 349.1,383.9 349.0,387.8 348.9,391.7 348.9,395.6 348.8,399.5 348.7,403.5 348.6,407.4 348.6,411.3 348.5,415.2 348.4,419.1 348.3,423.0 348.3,426.9 348.2,430.8 348.1,434.7 348.0,438.6 347.9,442.5 347.9,446.4 347.8,450.4 347.7,454.3 347.6,458.2 347.6,462.1 347.5,466.0 347.4,469.9 347.3,473.8 347.3,477.7 347.2,481.6 347.1,485.5 347.0,489.4 346.9,493.4 346.9,497.3 346.8,501.2 346.7,505.1 346.6,509.0 346.6,512.9 346.5,516.8 346.4,520.7 346.3,524.6 346.2,528.5 346.2,532.4 346.1,536.4 346.0,540.3 345.9,544.2 345.8,548.1 345.8,552.0 345.7,555.9 345.6,559.8 345.5,563.7 345.5,567.6 345.4,571.5 345.3,575.5 345.2,579.4 345.1,583.3 345.1,587.2 345.0,591.1 344.9,595.0 344.8,598.9 344.7,602.8 344.7,606.7 344.6,610.6 344.5,614.6 344.4,618.5 344.3,622.4 344.3,626.3 344.2,630.2 344.1,634.1 344.0,638.0 343.9,641.9 343.8,645.8 343.8,649.7 343.7,653.7 343.6,657.6 343.5,661.5 343.4,665.4 343.4,669.3 343.3,673.2 343.2,677.1 343.1,681.0 343.0,684.9 342.9,688.8 342.9,692.8"/>
<polyline points="434.1,-83.4 434.0,-79.5 433.9,-75.5 433.8,-71.6 433.7,-67.7 433.6,-63.8 433.5,-59.9 433.4,-56.0 433.3,-52.1 433.2,-48.2 433.1,-44.3 433.0,-40.4 432.9,-36.5 432.8,-32.6 432.7,-28.7 432.6,-24.7 432.6,-20.8 432.5,-16.9 432.4,-13.0 432.3,-9.1 432.2,-5.2 432.1,-1.3 432.0,2.6 431.9,6.5 431.8,10.4 431.7,14.3 431.6,18.2 431.5,22.1 431.4,26.1 431.3,30.0 431.2,33.9 431.1,37.8 431.0,41.7 430.9,45.6 430.8,49.5 430.7,53.4 430.6,57.3 430.5,61.2 430.4,65.1 430.2,69.0 430.1,72.9 430.0,76.9 429.9,80.8 429.8,84.7 429.7,88.6 429.6,92.5 429.5,96.4 429.4,100.3 429.3,104.2 429.2,108.1 429.1,112.0 429.0,115.9 428.9,119.8 428.8,123.8 428.7,127.7 428.6,131.6 428.5,135.5 428.4,139.4 428.3,143.3 428.2,147.2 428.1,151.1 428.0,155.0 427.9,158.9 427.8,162.8 427.7,166.7 427.6,170.7 427.5,174.6 427.3,178.5 427.2,182.4 427.1,186.3 427.0,190.2 426.9,194.1 426.8,198.0 426.7,201.9 426.6,205.8 426.5,209.7 426.4,213.6 426.3,217.6 426.2,221.5 426.1,225.4 426.0,229.3 425.9,233.2 425.7,237.1 425.6,241.0 425.5,244.9 425.4,248.8 425.3,252.7 425.2,256.6 425.1,260.6 425.0,264.5 424.9,268.4 424.8,272.3 424.7,276.2 424.6,280.1 424.4,284.0 424.3,287.9 424.2,291.8 424.1,295.7 424.0,299.6 423.9,303.6 423.8,307.5 423.7,311.4 423.6,315.3 423.5,319.2 423.3,323.1 423.2,327.0 423.1,330.9 423.0,334.8 422.9,338.7 422.8,342.6 422.7,346.6 422.6,350.5 422.5,354.4 422.3,358.3 422.2,362.2 422.1,366.1 422.0,370.0 421.9,373.9 421.8,377.8 421.7,381.7 421.6,385.7 421.4,389.6 421.3,393.5 421.2,397.4 421.1,401.3 421.0,405.2 420.9,409.1 420.8,413.0 420.7,416.9 420.5,420.8 420.4,424.7 420.3,428.7 420.2,432.6 420.1,436.5 420.0,440.4 419.8,444.3 419.7,448.2 419.6,452.1 419.5,456.0 419.4,459.9 419.3,463.8 419.2,467.8 419.0,471.7 418.9,475.6 418.8,479.5 418.7,483.4 418.6,487.3 418.5,491.2 418.3,495.1 418.2,499.0 418.1,502.9 418.0,506.9 417.9,510.8 417.8,514.7 417.6,518.6 417.5,522.5 417.4,526.4 417.3,530.3 417.2,534.2 417.1,538.1 416.9,542.1 416.8,546.0 416.7,549.9 416.6,553.8 416.5,557.7 416.3,561.6 416.2,565.5 416.1,569.4 416.0,573.3 415.9,577.2 415.7,581.2 415.6,585.1 415.5,589.0 415.4,592.9 415.3,596.8 415.1,600.7 415.0,604.6 414.9,608.5 414.8,612.4 414.7,616.4 414.5,620.3 414.4,624.2 414.3,628.1 414.2,632.0 414.1,635.9 413.9,639.8 413.8,643.7 413.7,647.6 413.6,651.6 413.5,655.5 413.3,659.4 413.2,663.3 413.1,667.2 413.0,671.1 412.8,675.0 412.7,678.9 412.6,682.8 412.5,686.8 412.3,690.7 412.2,694.6"/>
<polyline points="510.8,-81.2 510.7,-77.2 510.6,-73.3 510.4,-69.4 510.3,-65.5 510.2,-61.6 510.0,-57.7 509.9,-53.8 509.8,-49.9 509.6,-46.0 509.5,-42.1 509.4,-38.2 509.3,-34.2 509.1,-30.3 509.0,-26.4 508.9,-22.5 508.7,-18.6 508.6,-14.7 508.5,-10.8 508.3,-6.9 508.2,-3.0 508.1,0.9 507.9,4.9 507.8,8.8 507.7,12.7 507.5,16.6 507.4,20.5 507.3,24.4 507.1,28.3 507.0,32.2 506.9,36.1 506.7,40.0 506.6,44.0 506.5,47.9 506.3,51.8 506.2,55.7 506.1,59.6 505.9,63.5 505.8,67.4 505.7,71.3 505.5,75.2 505.4,79.1 505.3,83.1 505.1,87.0 505.0,90.9 504.8,94.8 504.7,98.7 504.6,102.6 504.4,106.5 504.3,110.4 504.2,114.3 504.0,118.3 503.9,122.2 503.7,126.1 503.6,130.0 503.5,133.9 503.3,137.8 503.2,141.7 503.0,145.6 502.9,149.5 502.8,153.4 502.6,157.4 502.5,161.3 502.3,165.2 502.2,169.1 502.1,173.0 501.9,176.9 501.8,180.8 501.6,184.7 501.5,188.6 501.4,192.5 501.2,196.5 501.1,200.4 500.9,204.3 500.8,208.2 500.7,212.1 500.5,216.0 500.4,219.9 500.2,223.8 500.1,227.7 499.9,231.7 499.8,235.6 499.7,239.5 499.5,243.4 499.4,247.3 499.2,251.2 499.1,255.1 498.9,259.0 498.8,262.9 498.6,266.9 498.5,270.8 498.4,274.7 498.2,278.6 498.1,282.5 497.9,286.4 497.8,290.3 497.6,294.2 497.5,298.1 497.3,302.0 497.2,306.0 497.0,309.9 496.9,313.8 496.7,317.7 496.6,321.6 496.4,325.5 496.3,329.4 496.1,333.3 496.0,337.2 495.9,341.2 495.7,345.1 495.6,349.0 495.4,352.9 495.3,356.8 495.1,360.7 495.0,364.6 494.8,368.5 494.7,372.4 494.5,376.4 494.4,380.3 494.2,384.2 494.1,388.1 493.9,392.0 493.8,395.9 493.6,399.8 493.5,403.7 493.3,407.7 493.2,411.6 493.0,415.5 492.8,419.4 492.7,423.3 492.5,427.2 492.4,431.1 492.2,435.0 492.1,438.9 491.9,442.9 491.8,446.8 491.6,450.7 491.5,454.6 491.3,458.5 491.2,462.4 491.0,466.3 490.9,470.2 490.7,474.1 490.5,478.1 490.4,482.0 490.2,485.9 490.1,489.8 489.9,493.7 489.8,497.6 489.6,501.5 489.5,505.4 489.3,509.4 489.1,513.3 489.0,517.2 488.8,521.1 488.7,525.0 488.5,528.9 488.4,532.8 488.2,536.7 488.0,540.6 487.9,544.6 487.7,548.5 487.6,552.4 487.4,556.3 487.3,560.2 487.1,564.1 486.9,568.0 486.8,571.9 486.6,575.9 486.5,579.8 486.3,583.7 486.1,587.6 486.0,591.5 485.8,595.4 485.7,599.3 485.5,603.2 485.3,607.1 485.2,611.1 485.0,615.0 484.9,618.9 484.7,622.8 484.5,626.7 484.4,630.6 484.2,634.5 484.0,638.4 483.9,642.4 483.7,646.3 483.6,650.2 483.4,654.1 483.2,658.0 483.1,661.9 482.9,665.8 482.7,669.7 482.6,673.7 482.4,677.6 482.3,681.5 482.1,685.4 481.9,689.3 481.8,693.2 481.6,697.1"/>
<polyline points="587.6,-78.3 587.4,-74.4 587.2,-70.5 587.1,-66.6 586.9,-62.7 586.8,-58.8 586.6,-54.8 586.4,-50.9 586.3,-47.0 586.1,-43.1 585.9,-39.2 585.8,-35.3 585.6,-31.4 585.5,-27.5 585.3,-23.5 585.1,-19.6 585.0,-15.7 584.8,-11.8 584.6,-7.9 584.5,-4.0 584.3,-0.1 584.1,3.8 584.0,7.8 583.8,11.7 583.6,15.6 583.5,19.5 583.3,23.4 583.1,27.3 583.0,31.2 582.8,35.1 582.6,39.1 582.5,43.0 582.3,46.9 582.1,50.8 582.0,54.7 581.8,58.6 581.6,62.5 581.5,66.5 581.3,70.4 581.1,74.3 580.9,78.2 580.8,82.1 580.6,86.0 580.4,89.9 580.3,93.8 580.1,97.8 579.9,101.7 579.8,105.6 579.6,109.5 579.4,113.4 579.2,117.3 579.1,121.2 578.9,125.1 578.7,129.1 578.5,133.0 578.4,136.9 578.2,140.8 578.0,144.7 577.8,148.6 577.7,152.5 577.5,156.4 577.3,160.4 577.1,164.3 577.0,168.2 576.8,172.1 576.6,176.0 576.4,179.9 576.3,183.8 576.1,187.8 575.9,191.7 575.7,195.6 575.6,199.5 575.4,203.4 575.2,207.3 575.0,211.2 574.9,215.1 574.7,219.1 574.5,223.0 574.3,226.9 574.1,230.8 574.0,234.7 573.8,238.6 573.6,242.5 573.4,246.4 573.2,250.4 573.1,254.3 572.9,258.2 572.7,262.1 572.5,266.0 572.3,269.9 572.1,273.8 572.0,277.8 571.8,281.7 571.6,285.6 571.4,289.5 571.2,293.4 571.1,297.3 570.9,301.2 570.7,305.1 570.5,309.1 570.3,313.0 570.1,316.9 570.0,320.8 569.8,324.7 569.6,328.6 569.4,332.5 569.2,336.5 569.0,340.4 568.8,344.3 568.7,348.2 568.5,352.1 568.3,356.0 568.1,359.9 567.9,363.8 567.7,367.8 567.5,371.7 567.3,375.6 567.2,379.5 567.0,383.4 566.8,387.3 566.6,391.2 566.4,395.2 566.2,399.1 566.0,403.0 565.8,406.9 565.6,410.8 565.5,414.7 565.3,418.6 565.1,422.5 564.9,426.5 564.7,430.4 564.5,434.3 564.3,438.2 564.1,442.1 563.9,446.0 563.7,449.9 563.5,453.9 563.4,457.8 563.2,461.7 563.0,465.6 562.8,469.5 562.6,473.4 562.4,477.3 562.2,481.2 562.0,485.2 561.8,489.1 561.6,493.0 561.4,496.9 561.2,500.8 561.0,504.7 560.8,508.6 560.6,512.6 560.4,516.5 560.2,520.4 560.1,524.3 559.9,528.2 559.7,532.1 559.5,536.0 559.3,540.0 559.1,543.9 558.9,547.8 558.7,551.7 558.5,555.6 558.3,559.5 558.1,563.4 557.9,567.3 557.7,571.3 557.5,575.2 557.3,579.1 557.1,583.0 556.9,586.9 556.7,590.8 556.5,594.7 556.3,598.7 556.1,602.6 555.9,606.5 555.7,610.4 555.5,614.3 555.3,618.2 555.1,622.1 554.9,626.1 554.7,630.0 554.5,633.9 554.3,637.8 554.1,641.7 553.9,645.6 553.7,649.5 553.5,653.5 553.3,657.4 553.0,661.3 552.8,665.2 552.6,669.1 552.4,673.0 552.2,676.9 552.0,680.8 551.8,684.8 551.6,688.7 551.4,692.6 551.2,696.5 551.0,700.4"/>
<polyline points="-21.4,89.4 -18.0,89.4 -14.6,89.3 -11.2,89.2 -7.8,89.1 -4.4,89.0 -0.9,88.9 2.5,88.9 5.9,88.8 9.3,88.7 12.7,88.6 16.1,88.5 19.5,88.5 22.9,88.4 26.3,88.3 29.7,88.3 33.1,88.2 36.5,88.1 39.9,88.1 43.3,88.0 46.7,87.9 50.1,87.9 53.5,87.8 56.9,87.8 60.3,87.7 63.7,87.6 67.1,87.6 70.5,87.5 73.9,87.5 77.3,87.4 80.7,87.4 84.1,87.3 87.5,87.3 90.9,87.2 94.3,87.2 97.7,87.2 101.1,87.1 104.5,87.1 107.9,87.0 111.3,87.0 114.7,87.0 118.1,86.9 121.5,86.9 124.9,86.9 128.3,86.8 131.7,86.8 135.1,86.8 138.5,86.7 141.9,86.7 145.3,86.7 148.7,86.7 152.1,86.7 155.5,86.6 158.9,86.6 162.3,86.6 165.7,86.6 169.1,86.6 172.5,86.6 175.9,86.5 179.3,86.5 182.7,86.5 186.1,86.5 189.4,86.5 192.8,86.5 196.2,86.5 199.6,86.5 203.0,86.5 206.4,86.5 209.8,86.5 213.2,86.5 216.6,86.5 220.0,86.5 223.4,86.5 226.8,86.5 230.2,86.5 233.6,86.5 237.0,86.6 240.4,86.6 243.8,86.6 247.2,86.6 250.6,86.6 254.0,86.6 257.4,86.7 260.8,86.7 264.2,86.7 267.6,86.7 271.0,86.8 274.4,86.8 277.8,86.8 281.2,86.8 284.6,86.9 288.0,86.9 291.4,86.9 294.8,87.0 298.2,87.0 301.6,87.0 305.0,87.1 308.4,87.1 311.8,87.2 315.2,87.2 318.6,87.3 322.0,87.3 325.4,87.3 328.8,87.4 332.2,87.4 335.6,87.5 339.0,87.5 342.4,87.6 345.8,87.7 349.2,87.7 352.6,87.8 356.0,87.8 359.4,87.9 362.8,88.0 366.2,88.0 369.6,88.1 373.0,88.1 376.4,88.2 379.8,88.3 383.2,88.4 386.6,88.4 390.0,88.5 393.4,88.6 396.8,88.6 400.2,88.7 403.6,88.8 407.0,88.9 410.4,89.0 413.8,89.0 417.2,89.1 420.6,89.2 424.0,89.3 427.4,89.4 430.9,89.5 434.3,89.6 437.7,89.7 441.1,89.8 444.5,89.8 447.9,89.9 451.3,90.0 454.7,90.1 458.1,90.2 461.5,90.3 464.9,90.4 468.3,90.5 471.7,90.6 475.1,90.8 478.5,90.9 481.9,91.0 485.3,91.1 488.7,91.2 492.1,91.3 495.5,91.4 498.9,91.5 502.3,91.7 505.7,91.8 509.1,91.9 512.5,92.0 515.9,92.1 519.3,92.3 522.7,92.4 526.1,92.5 529.5,92.6 532.9,92.8 536.3,92.9 539.7,93.0 543.2,93.2 546.6,93.3 550.0,93.4 553.4,93.6 556.8,93.7 560.2,93.9 563.6,94.0 567.0,94.1 570.4,94.3 573.8,94.4 577.2,94.6 580.6,94.7 584.0,94.9 587.4,95.0 590.8,95.2 594.2,95.3 597.6,95.5 601.0,95.6 604.5,95.8 607.9,96.0 611.3,96.1 614.7,96.3 618.1,96.4 621.5,96.6 624.9,96.8 628.3,96.9 631.7,97.1 635.1,97.3 638.5,97.5 641.9,97.6 645.3,97.8 648.7,98.0 652.2,98.2 655.6,98.3"/>
<polyline points="-19.1,175.9 -15.7,175.8 -12.3,175.7 -9.0,175.6 -5.6,175.5 -2.2,175.4 1.1,175.3 4.5,175.3 7.9,175.2 11.2,175.1 14.6,175.0 18.0,174.9 21.3,174.9 24.7,174.8 28.1,174.7 31.4,174.7 34.8,174.6 38.2,174.5 41.5,174.5 44.9,174.4 48.3,174.3 51.6,174.3 55.0,174.2 58.4,174.1 61.7,174.1 65.1,174.0 68.5,174.0 71.8,173.9 75.2,173.9 78.6,173.8 81.9,173.8 85.3,173.7 88.7,173.7 92.0,173.6 95.4,173.6 98.7,173.5 102.1,173.5 105.5,173.4 108.8,173.4 112.2,173.4 115.6,173.3 118.9,173.3 122.3,173.3 125.7,173.2 129.0,173.2 132.4,173.2 135.8,173.1 139.1,173.1 142.5,173.1 145.9,173.1 149.2,173.0 152.6,173.0 156.0,173.0 159.3,173.0 162.7,173.0 166.0,172.9 169.4,172.9 172.8,172.9 176.1,172.9 179.5,172.9 182.9,172.9 186.2,172.9 189.6,172.9 193.0,172.9 196.3,172.9 199.7,172.9 203.1,172.9 206.4,172.9 209.8,172.9 213.2,172.9 216.5,172.9 219.9,172.9 223.2,172.9 226.6,172.9 230.0,172.9 233.3,172.9 236.7,172.9 240.1,172.9 243.4,172.9 246.8,173.0 250.2,173.0 253.5,173.0 256.9,173.0 260.3,173.0 263.6,173.1 267.0,173.1 270.4,173.1 273.7,173.1 277.1,173.2 280.4,173.2 283.8,173.2 287.2,173.3 290.5,173.3 293.9,173.3 297.3,173.4 300.6,173.4 304.0,173.5 307.4,173.5 310.7,173.5 314.1,173.6 317.5,173.6 320.8,173.7 324.2,173.7 327.6,173.8 330.9,173.8 334.3,173.9 337.7,173.9 341.0,174.0 344.4,174.0 347.8,174.1 351.1,174.2 354.5,174.2 357.8,174.3 361.2,174.3 364.6,174.4 367.9,174.5 371.3,174.5 374.7,174.6 378.0,174.7 381.4,174.8 384.8,174.8 388.1,174.9 391.5,175.0 394.9,175.0 398.2,175.1 401.6,175.2 405.0,175.3 408.3,175.4 411.7,175.5 415.1,175.5 418.4,175.6 421.8,175.7 425.2,175.8 428.5,175.9 431.9,176.0 435.3,176.1 438.6,176.2 442.0,176.3 445.4,176.4 448.7,176.5 452.1,176.6 455.5,176.7 458.8,176.8 462.2,176.9 465.6,177.0 468.9,177.1 472.3,177.2 475.7,177.3 479.1,177.4 482.4,177.5 485.8,177.6 489.2,177.8 492.5,177.9 495.9,178.0 499.3,178.1 502.6,178.2 506.0,178.4 509.4,178.5 512.7,178.6 516.1,178.7 519.5,178.9 522.8,179.0 526.2,179.1 529.6,179.3 533.0,179.4 536.3,179.5 539.7,179.7 543.1,179.8 546.4,179.9 549.8,180.1 553.2,180.2 556.5,180.4 559.9,180.5 563.3,180.6 566.6,180.8 570.0,180.9 573.4,181.1 576.8,181.2 580.1,181.4 583.5,181.6 586.9,181.7 590.2,181.9 593.6,182.0 597.0,182.2 600.4,182.3 603.7,182.5 607.1,182.7 610.5,182.8 613.8,183.0 617.2,183.2 620.6,183.3 624.0,183.5 627.3,183.7 630.7,183.9 634.1,184.0 637.5,184.2 640.8,184.4 644.2,184.6 647.6,184.7 650.9,184.9"/>
<polyline points="-16.7,262.3 -13.4,262.2 -10.0,262.1 -6.7,262.0 -3.4,261.9 -0.0,261.8 3.3,261.8 6.6,261.7 10.0,261.6 13.3,261.5 16.6,261.4 19.9,261.4 23.3,261.3 26.6,261.2 29.9,261.1 33.3,261.1 36.6,261.0 39.9,260.9 43.3,260.9 46.6,260.8 49.9,260.7 53.2,260.7 56.6,260.6 59.9,260.5 63.2,260.5 66.6,260.4 69.9,260.4 73.2,260.3 76.6,260.2 79.9,260.2 83.2,260.1 86.5,260.1 89.9,260.0 93.2,260.0 96.5,260.0 99.9,259.9 103.2,259.9 106.5,259.8 109.9,259.8 113.2,259.7 116.5,259.7 119.8,259.7 123.2,259.6 126.5,259.6 129.8,259.6 133.2,259.5 136.5,259.5 139.8,259.5 143.1,259.5 146.5,259.4 149.8,259.4 153.1,259.4 156.5,259.4 159.8,259.3 163.1,259.3 166.4,259.3 169.8,259.3 173.1,259.3 176.4,259.3 179.8,259.3 183.1,259.3 186.4,259.2 189.8,259.2 193.1,259.2 196.4,259.2 199.7,259.2 203.1,259.2 206.4,259.2 209.7,259.2 213.1,259.2 216.4,259.2 219.7,259.2 223.0,259.2 226.4,259.3 229.7,259.3 233.0,259.3 236.4,259.3 239.7,259.3 243.0,259.3 246.3,259.3 249.7,259.4 253.0,259.4 256.3,259.4 259.7,259.4 263.0,259.4 266.3,259.5 269.7,259.5 273.0,259.5 276.3,259.6 279.6,259.6 283.0,259.6 286.3,259.6 289.6,259.7 293.0,259.7 296.3,259.8 299.6,259.8 302.9,259.8 306.3,259.9 309.6,259.9 312.9,260.0 316.3,260.0 319.6,260.1 322.9,260.1 326.3,260.2 329.6,260.2 332.9,260.3 336.2,260.3 339.6,260.4 342.9,260.4 346.2,260.5 349.6,260.6 352.9,260.6 356.2,260.7 359.6,260.7 362.9,260.8 366.2,260.9 369.5,260.9 372.9,261.0 376.2,261.1 379.5,261.2 382.9,261.2 386.2,261.3 389.5,261.4 392.9,261.5 396.2,261.5 399.5,261.6 402.8,261.7 406.2,261.8 409.5,261.9 412.8,262.0 416.2,262.0 419.5,262.1 422.8,262.2 426.2,262.3 429.5,262.4 432.8,262.5 436.2,262.6 439.5,262.7 442.8,262.8 446.1,262.9 449.5,263.0 452.8,263.1 456.1,263.2 459.5,263.3 462.8,263.4 466.1,263.5 469.5,263.6 472.8,263.8 476.1,263.9 479.5,264.0 482.8,264.1 486.1,264.2 489.5,264.3 492.8,264.5 496.1,264.6 499.5,264.7 502.8,264.8 506.1,265.0 509.5,265.1 512.8,265.2 516.1,265.3 519.5,265.5 522.8,265.6 526.1,265.7 529.5,265.9 532.8,266.0 536.1,266.2 539.5,266.3 542.8,266.4 546.1,266.6 549.5,266.7 552.8,266.9 556.1,267.0 559.5,267.2 562.8,267.3 566.1,267.5 569.5,267.6 572.8,267.8 576.1,267.9 579.5,268.1 582.8,268.2 586.1,268.4 589.5,268.6 592.8,268.7 596.1,268.9 599.5,269.1 602.8,269.2 606.2,269.4 609.5,269.6 612.8,269.7 616.2,269.9 619.5,270.1 622.8,270.3 626.2,270.4 629.5,270.6 632.8,270.8 636.2,271.0 639.5,271.1 642.9,271.3 646.2,271.5"/>
<polyline points="-14.3,348.7 -11.0,348.6 -7.7,348.5 -4.4,348.5 -1.1,348.4 2.2,348.3 5.5,348.2 8.8,348.1 12.1,348.0 15.4,347.9 18.7,347.9 22.0,347.8 25.3,347.7 28.6,347.6 31.9,347.6 35.1,347.5 38.4,347.4 41.7,347.3 45.0,347.3 48.3,347.2 51.6,347.1 54.9,347.1 58.2,347.0 61.5,346.9 64.8,346.9 68.1,346.8 71.4,346.8 74.7,346.7 78.0,346.7 81.3,346.6 84.5,346.5 87.8,346.5 91.1,346.4 94.4,346.4 97.7,346.4 101.0,346.3 104.3,346.3 107.6,346.2 110.9,346.2 114.2,346.1 117.5,346.1 120.8,346.1 124.1,346.0 127.4,346.0 130.6,346.0 133.9,345.9 137.2,345.9 140.5,345.9 143.8,345.8 147.1,345.8 150.4,345.8 153.7,345.8 157.0,345.8 160.3,345.7 163.6,345.7 166.9,345.7 170.2,345.7 173.5,345.7 176.7,345.7 180.0,345.6 183.3,345.6 186.6,345.6 189.9,345.6 193.2,345.6 196.5,345.6 199.8,345.6 203.1,345.6 206.4,345.6 209.7,345.6 213.0,345.6 216.3,345.6 219.5,345.6 222.8,345.6 226.1,345.6 229.4,345.7 232.7,345.7 236.0,345.7 239.3,345.7 242.6,345.7 245.9,345.7 249.2,345.7 252.5,345.8 255.8,345.8 259.1,345.8 262.3,345.8 265.6,345.9 268.9,345.9 272.2,345.9 275.5,345.9 278.8,346.0 282.1,346.0 285.4,346.0 288.7,346.1 292.0,346.1 295.3,346.2 298.6,346.2 301.9,346.2 305.2,346.3 308.4,346.3 311.7,346.4 315.0,346.4 318.3,346.5 321.6,346.5 324.9,346.6 328.2,346.6 331.5,346.7 334.8,346.7 338.1,346.8 341.4,346.8 344.7,346.9 348.0,347.0 351.3,347.0 354.5,347.1 357.8,347.2 361.1,347.2 364.4,347.3 367.7,347.4 371.0,347.4 374.3,347.5 377.6,347.6 380.9,347.7 384.2,347.7 387.5,347.8 390.8,347.9 394.1,348.0 397.4,348.0 400.7,348.1 404.0,348.2 407.2,348.3 410.5,348.4 413.8,348.5 417.1,348.6 420.4,348.7 423.7,348.8 427.0,348.9 430.3,349.0 433.6,349.0 436.9,349.1 440.2,349.2 443.5,349.4 446.8,349.5 450.1,349.6 453.4,349.7 456.7,349.8 460.0,349.9 463.3,350.0 466.5,350.1 469.8,350.2 473.1,350.3 476.4,350.5 479.7,350.6 483.0,350.7 486.3,350.8 489.6,350.9 492.9,351.1 496.2,351.2 499.5,351.3 502.8,351.4 506.1,351.6 509.4,351.7 512.7,351.8 516.0,352.0 519.3,352.1 522.6,352.2 525.9,352.4 529.2,352.5 532.5,352.7 535.8,352.8 539.1,352.9 542.4,353.1 545.7,353.2 548.9,353.4 552.2,353.5 555.5,353.7 558.8,353.8 562.1,354.0 565.4,354.1 568.7,354.3 572.0,354.5 575.3,354.6 578.6,354.8 581.9,354.9 585.2,355.1 588.5,355.3 591.8,355.4 595.1,355.6 598.4,355.8 601.7,355.9 605.0,356.1 608.3,356.3 611.6,356.5 614.9,356.6 618.2,356.8 621.5,357.0 624.8,357.2 628.1,357.4 631.4,357.5 634.7,357.7 638.0,357.9 641.3,358.1"/>
<polyline points="-11.8,435.2 -8.5,435.1 -5.2,435.0 -2.0,434.9 1.3,434.8 4.5,434.7 7.8,434.6 11.0,434.5 14.3,434.5 17.5,434.4 20.8,434.3 24.1,434.2 27.3,434.1 30.6,434.1 33.8,434.0 37.1,433.9 40.3,433.8 43.6,433.8 46.9,433.7 50.1,433.6 53.4,433.6 56.6,433.5 59.9,433.4 63.1,433.4 66.4,433.3 69.6,433.2 72.9,433.2 76.2,433.1 79.4,433.1 82.7,433.0 85.9,433.0 89.2,432.9 92.4,432.9 95.7,432.8 98.9,432.8 102.2,432.7 105.4,432.7 108.7,432.6 112.0,432.6 115.2,432.5 118.5,432.5 121.7,432.5 125.0,432.4 128.2,432.4 131.5,432.4 134.7,432.3 138.0,432.3 141.3,432.3 144.5,432.3 147.8,432.2 151.0,432.2 154.3,432.2 157.5,432.2 160.8,432.1 164.0,432.1 167.3,432.1 170.5,432.1 173.8,432.1 177.1,432.1 180.3,432.1 183.6,432.0 186.8,432.0 190.1,432.0 193.3,432.0 196.6,432.0 199.8,432.0 203.1,432.0 206.3,432.0 209.6,432.0 212.9,432.0 216.1,432.0 219.4,432.0 222.6,432.0 225.9,432.0 229.1,432.1 232.4,432.1 235.6,432.1 238.9,432.1 242.2,432.1 245.4,432.1 248.7,432.1 251.9,432.2 255.2,432.2 258.4,432.2 261.7,432.2 264.9,432.3 268.2,432.3 271.4,432.3 274.7,432.3 278.0,432.4 281.2,432.4 284.5,432.4 287.7,432.5 291.0,432.5 294.2,432.6 297.5,432.6 300.7,432.6 304.0,432.7 307.3,432.7 310.5,432.8 313.8,432.8 317.0,432.9 320.3,432.9 323.5,433.0 326.8,433.0 330.0,433.1 333.3,433.1 336.5,433.2 339.8,433.3 343.1,433.3 346.3,433.4 349.6,433.4 352.8,433.5 356.1,433.6 359.3,433.6 362.6,433.7 365.8,433.8 369.1,433.9 372.4,433.9 375.6,434.0 378.9,434.1 382.1,434.2 385.4,434.2 388.6,434.3 391.9,434.4 395.2,434.5 398.4,434.6 401.7,434.7 404.9,434.7 408.2,434.8 411.4,434.9 414.7,435.0 417.9,435.1 421.2,435.2 424.5,435.3 427.7,435.4 431.0,435.5 434.2,435.6 437.5,435.7 440.7,435.8 444.0,435.9 447.3,436.0 450.5,436.1 453.8,436.2 457.0,436.3 460.3,436.5 463.5,436.6 466.8,436.7 470.1,436.8 473.3,436.9 476.6,437.0 479.8,437.2 483.1,437.3 486.3,437.4 489.6,437.5 492.9,437.7 496.1,437.8 499.4,437.9 502.6,438.1 505.9,438.2 509.1,438.3 512.4,438.5 515.7,438.6 518.9,438.7 522.2,438.9 525.4,439.0 528.7,439.2 532.0,439.3 535.2,439.4 538.5,439.6 541.7,439.7 545.0,439.9 548.3,440.0 551.5,440.2 554.8,440.4 558.0,440.5 561.3,440.7 564.5,440.8 567.8,441.0 571.1,441.1 574.3,441.3 577.6,441.5 580.8,441.6 584.1,441.8 587.4,442.0 590.6,442.2 593.9,442.3 597.1,442.5 600.4,442.7 603.7,442.8 606.9,443.0 610.2,443.2 613.4,443.4 616.7,443.6 620.0,443.8 623.2,443.9 626.5,444.1 629.8,444.3 633.0,444.5 636.3,444.7"/>
<polyline points="-9.2,521.6 -6.0,521.5 -2.8,521.4 0.5,521.3 3.7,521.3 6.9,521.2 10.1,521.1 13.3,521.0 16.5,520.9 19.8,520.8 23.0,520.7 26.2,520.7 29.4,520.6 32.6,520.5 35.9,520.4 39.1,520.3 42.3,520.3 45.5,520.2 48.7,520.1 51.9,520.1 55.2,520.0 58.4,519.9 61.6,519.9 64.8,519.8 68.0,519.7 71.2,519.7 74.5,519.6 77.7,519.6 80.9,519.5 84.1,519.4 87.3,519.4 90.5,519.3 93.8,519.3 97.0,519.2 100.2,519.2 103.4,519.1 106.6,519.1 109.8,519.1 113.1,519.0 116.3,519.0 119.5,518.9 122.7,518.9 125.9,518.9 129.1,518.8 132.4,518.8 135.6,518.8 138.8,518.7 142.0,518.7 145.2,518.7 148.4,518.6 151.6,518.6 154.9,518.6 158.1,518.6 161.3,518.6 164.5,518.5 167.7,518.5 170.9,518.5 174.2,518.5 177.4,518.5 180.6,518.5 183.8,518.5 187.0,518.4 190.2,518.4 193.5,518.4 196.7,518.4 199.9,518.4 203.1,518.4 206.3,518.4 209.5,518.4 212.8,518.4 216.0,518.4 219.2,518.4 222.4,518.5 225.6,518.5 228.8,518.5 232.1,518.5 235.3,518.5 238.5,518.5 241.7,518.5 244.9,518.5 248.1,518.6 251.4,518.6 254.6,518.6 257.8,518.6 261.0,518.7 264.2,518.7 267.4,518.7 270.6,518.7 273.9,518.8 277.1,518.8 280.3,518.8 283.5,518.9 286.7,518.9 289.9,518.9 293.2,519.0 296.4,519.0 299.6,519.1 302.8,519.1 306.0,519.2 309.2,519.2 312.5,519.3 315.7,519.3 318.9,519.4 322.1,519.4 325.3,519.5 328.5,519.5 331.8,519.6 335.0,519.6 338.2,519.7 341.4,519.8 344.6,519.8 347.8,519.9 351.1,519.9 354.3,520.0 357.5,520.1 360.7,520.2 363.9,520.2 367.1,520.3 370.4,520.4 373.6,520.4 376.8,520.5 380.0,520.6 383.2,520.7 386.4,520.8 389.7,520.8 392.9,520.9 396.1,521.0 399.3,521.1 402.5,521.2 405.8,521.3 409.0,521.4 412.2,521.5 415.4,521.6 418.6,521.7 421.8,521.8 425.1,521.9 428.3,522.0 431.5,522.1 434.7,522.2 437.9,522.3 441.1,522.4 444.4,522.5 447.6,522.6 450.8,522.7 454.0,522.8 457.2,522.9 460.5,523.1 463.7,523.2 466.9,523.3 470.1,523.4 473.3,523.5 476.5,523.7 479.8,523.8 483.0,523.9 486.2,524.0 489.4,524.2 492.6,524.3 495.9,524.4 499.1,524.6 502.3,524.7 505.5,524.8 508.7,525.0 512.0,525.1 515.2,525.2 518.4,525.4 521.6,525.5 524.8,525.7 528.1,525.8 531.3,526.0 534.5,526.1 537.7,526.3 540.9,526.4 544.2,526.6 547.4,526.7 550.6,526.9 553.8,527.0 557.0,527.2 560.3,527.4 563.5,527.5 566.7,527.7 569.9,527.9 573.1,528.0 576.4,528.2 579.6,528.4 582.8,528.5 586.0,528.7 589.2,528.9 592.5,529.1 595.7,529.2 598.9,529.4 602.1,529.6 605.3,529.8 608.6,530.0 611.8,530.1 615.0,530.3 618.2,530.5 621.5,530.7 624.7,530.9 627.9,531.1 631.1,531.3"/>
</g>
<g fill="none" stroke="#585858" stroke-width="1.6" stroke-linejoin="round">
<polyline points="145.4,150.1 146.9,150.2 148.4,150.3 149.6,151.3 151.4,151.0 152.4,152.3 153.9,152.8 154.7,154.2 156.4,154.4 157.2,155.8 158.7,156.5 159.3,158.0 160.7,158.7 161.4,160.3 162.9,160.1 164.4,160.1 165.8,159.5 167.3,160.0 168.7,160.2 170.1,160.9 171.6,161.1 172.7,162.3 174.1,163.0 175.3,163.8 176.8,164.3 178.0,165.2 179.2,166.1 180.5,166.8 181.9,167.5 183.2,168.2 184.5,168.9 186.1,169.2 187.2,170.3 188.4,171.1 189.6,172.2 191.3,172.3 192.4,173.4 193.6,174.3 194.3,175.8 196.0,176.1 197.0,177.2 198.2,178.0 199.5,179.0 200.7,177.7 202.3,177.6 203.6,176.7 205.2,176.9 206.5,175.9 208.1,176.5 209.6,176.1 211.1,176.8 212.6,175.8 214.1,176.5 215.6,176.6 217.0,177.5 218.6,176.5 220.0,176.8 221.4,176.4 223.2,176.9 224.3,175.6 225.7,175.0 227.1,174.5 228.8,174.8 230.1,173.9 231.4,173.2 232.8,172.6 234.4,172.4 235.6,171.5 236.9,170.7 238.4,170.4 239.7,169.5 240.6,168.2 241.4,166.9 243.0,166.4 244.3,165.6 245.3,164.5 246.0,162.9 247.6,162.6 248.8,162.8 250.0,163.7 251.8,163.5 252.9,164.6 254.3,165.1 255.7,166.0 257.4,165.4 258.6,166.5 260.2,166.6 261.5,167.4 263.2,166.9 264.4,168.1 265.6,168.9 266.6,170.1 268.5,170.4 268.3,172.3 269.0,173.6 270.1,174.8 272.1,174.6 272.8,176.2 273.6,177.5 274.3,179.0 276.2,178.9 277.4,179.8"/>
<polyline points="277.4,179.8 277.6,178.3 276.8,176.8 277.6,175.3 277.9,173.8 278.6,172.3 277.3,170.8 277.5,169.3 277.9,167.8 278.7,166.3 278.1,164.8 277.9,163.3 278.2,161.8 278.5,160.3 278.9,158.9"/>
<polyline points="277.4,179.8 279.1,179.7 280.7,179.9 282.4,180.5 283.9,179.1 285.7,179.7 286.8,178.3 288.1,177.3 289.6,176.5 290.2,174.8 291.7,173.9"/>
<polyline points="277.4,179.8 276.8,181.2 276.0,182.5 275.8,184.0 274.2,184.9 273.8,186.4 274.0,188.2 272.2,188.8 271.6,190.3 270.2,190.9 269.5,192.5 267.7,192.3 266.2,192.8 265.8,194.2 264.7,195.5 266.1,196.4 266.2,197.9 266.6,199.4 265.6,200.6 265.3,202.1 265.1,203.7 263.7,204.6 263.6,206.3 262.3,207.2 261.7,208.7 260.2,209.3 259.4,210.6 258.7,212.0 257.1,212.6 256.3,213.9 255.4,215.1 255.1,216.6 253.8,217.6 253.4,219.1 253.6,220.7 252.9,222.1 252.0,223.4 252.0,225.0 252.3,226.5 252.0,227.9 252.1,229.5 253.1,230.7 254.1,232.0 253.6,233.7 254.2,235.1 255.1,236.4 255.8,237.7 255.8,239.3 256.3,240.7 257.8,241.7 257.6,243.4 258.3,244.8 257.8,246.2 258.3,247.8 257.8,249.2 257.3,250.7 258.0,252.3 257.0,253.7 257.6,255.3 256.6,256.6 256.9,258.2 256.3,259.6 255.9,261.1 256.3,262.7 254.9,263.9 255.6,265.6 254.7,266.9 254.7,268.5 253.5,269.7 253.0,271.1 253.4,272.9 251.6,273.8 251.6,275.4 250.7,276.6 250.9,278.5 249.1,278.9 247.8,279.8 247.6,281.7 246.0,282.3 245.0,283.4 243.5,284.0 243.4,286.0 241.9,286.6 240.7,287.7 240.8,289.4 240.3,290.8 239.7,292.2 238.3,293.2 238.7,295.0 238.1,296.4 237.1,297.6 236.6,299.0 236.3,300.5 236.0,302.0 235.0,303.2 234.7,304.7 234.4,306.2 233.9,307.6 233.3,309.0 233.1,310.5 232.5,311.9 232.3,313.4 231.9,314.8 231.5,316.3 231.1,317.7 230.6,319.2 230.9,320.8 229.7,322.0 229.8,323.6 229.4,325.0 229.3,326.5 228.6,327.9 228.3,329.4"/>
<polyline points="265.6,193.3 267.1,193.5 268.6,193.4 270.1,193.4 271.5,194.2 272.8,194.7 274.2,195.3 275.8,195.5 276.6,197.1 277.6,198.2 278.9,199.0 280.5,199.3 281.7,200.2 282.5,201.7 283.9,202.4 285.1,203.2 286.7,203.5 288.0,203.9 289.5,204.1 290.8,204.7 291.2,205.9 292.5,207.0 293.0,208.5 292.7,210.0 291.7,211.4 292.3,213.0 293.4,213.8 294.3,215.0 295.0,216.5 296.2,217.4 297.9,217.3 299.2,218.1 300.2,219.3 300.9,220.7 302.0,221.7 302.7,223.0 303.1,224.4 303.5,225.9 303.4,227.4 303.5,228.9 303.5,230.4 304.3,231.8 304.1,233.4 304.3,234.9 304.4,236.4 304.8,237.8 305.0,239.2 306.1,240.4 307.7,240.8 308.7,241.8 310.2,241.8 311.7,242.1 313.1,241.3 314.6,240.9 316.1,241.2 317.7,241.3 319.1,241.4 320.7,240.9 322.1,241.3 323.7,241.3 325.1,241.9 326.6,242.1 328.1,242.1 329.7,241.9 331.2,242.2 332.4,243.4 333.9,243.6 335.5,243.4 337.1,243.0 338.4,244.1 339.8,244.8 341.4,244.7 343.0,244.5 344.5,244.5 345.8,245.5 347.3,245.6 348.8,246.0 350.3,245.3 351.8,245.1 353.3,245.0 354.8,245.2 356.1,245.3 357.5,245.8 358.4,247.0 359.3,248.3 359.7,249.8 361.1,250.6 362.2,251.7 363.0,253.0 363.7,254.3 364.6,255.5 365.9,256.5 366.4,258.0 367.5,259.0 368.3,260.3 369.2,261.5 369.6,263.0 370.3,264.4 371.4,265.4 372.0,266.8 372.9,268.1 373.2,269.6 374.3,270.5 375.8,270.4 377.2,269.7 378.6,269.2 380.1,269.1 381.5,268.4 382.7,267.4 383.0,265.7 384.1,264.9 384.8,263.5 385.5,262.1 384.9,260.5 384.8,258.9 385.8,257.6 386.5,256.3 387.2,254.9 387.0,253.3 387.6,251.9 388.0,250.4 389.0,249.2 389.6,247.8 389.8,246.3 390.0,244.7 390.4,243.3 391.9,242.1 391.6,240.5 391.0,239.0 390.2,237.6 390.8,236.0 391.0,234.6 391.1,233.2 391.7,231.8 392.4,230.5"/>
<polyline points="374.1,270.6 372.7,270.0 371.3,269.5 369.9,268.9 368.8,270.1 368.3,271.7 366.9,272.5 365.4,273.2 365.3,274.8 365.2,276.3 364.9,277.8 364.8,279.3 364.2,280.7 363.6,282.0 362.8,283.3 361.8,284.5 361.3,285.9 360.6,287.3 359.6,288.4 359.1,289.9 357.8,290.8 356.5,291.5 356.0,293.2 355.1,294.4 353.3,294.7 352.3,295.9 351.6,297.3 350.4,298.3 349.6,299.6 348.2,300.3 346.5,300.4 345.5,301.7 344.3,302.9 342.8,302.3 341.4,301.6 340.0,301.2 338.5,300.8 336.9,300.7 335.6,299.9 334.5,298.8 333.0,298.6 331.6,299.4 330.5,300.5 329.3,301.6 327.7,301.0 326.3,300.6 324.7,301.3 323.2,300.9 321.8,300.3 320.4,300.1 319.9,298.5 319.3,297.1 318.1,296.3 317.0,296.1 315.4,296.3 315.3,297.9 314.9,299.3 314.1,300.6 313.5,301.4 312.0,301.9 310.6,302.2 309.0,302.3 307.4,302.0 306.1,302.8 304.8,303.8 303.4,304.1 302.0,304.6 300.5,304.8 299.3,304.2 297.6,304.5 296.1,304.2 295.0,302.4 293.8,303.8 293.5,305.3 292.5,306.5 291.8,307.9 290.9,309.0 289.2,309.6 288.5,310.9 287.7,312.4 286.0,312.3 284.5,312.2 283.0,312.4 281.5,312.8 280.7,314.1 279.6,315.1 278.3,316.0 277.3,317.1 275.9,317.6 274.4,318.0 273.1,318.8 271.6,318.9 270.1,319.4 268.9,320.4 267.3,320.4 265.8,320.5 264.7,321.8 263.7,322.6 262.5,323.6 262.0,325.1 261.0,326.2 260.0,327.1 259.0,328.4 257.5,328.8 255.8,328.5 254.5,329.3 253.2,330.3 251.9,331.0 250.4,331.4 248.8,331.3 247.4,331.9 246.1,333.0 244.7,332.4 243.4,331.6 242.2,330.6 241.1,329.5 239.4,329.6 237.9,330.1 236.4,329.1 234.9,329.1 233.4,329.6 231.9,329.2 230.4,329.5 229.0,329.8 227.4,329.5 226.1,330.3 225.0,331.6 223.5,331.8 222.1,332.4 220.9,333.4 219.5,333.9 218.3,334.9 217.3,335.9 216.2,337.0 215.3,338.3 214.0,339.0 212.5,339.4 211.2,340.1 209.8,340.8 208.6,341.6 207.7,342.9 206.0,343.2 204.5,343.6 203.7,345.2 202.2,345.6 200.6,345.1 199.2,345.4 197.6,345.4 196.1,345.5 195.0,346.7 193.9,347.5 192.2,347.8 191.2,349.0 190.6,350.4 190.8,351.6 191.4,353.0 191.6,354.5 191.9,356.0 192.8,357.3 191.2,357.3 189.7,357.1 188.2,356.9 186.8,356.4 185.3,356.5 183.7,356.3 182.6,355.2 181.1,354.7 179.5,354.7 178.3,353.6 176.8,353.3 175.2,353.5 173.9,352.7 172.4,352.4 171.0,351.9 170.6,350.2 169.7,349.0 168.1,348.4 167.0,347.6 165.8,346.5 164.4,346.2 163.0,347.0 162.0,348.2 160.9,349.1 159.5,349.8 158.5,350.9 157.8,352.1 156.4,352.2 154.8,352.4 153.4,351.5 152.2,350.4 150.5,350.8 148.9,350.7 147.7,349.7 146.2,349.5 144.8,348.8 143.5,348.0 141.9,348.5 140.6,348.8 138.9,348.5 137.7,349.3 136.5,350.3 135.0,350.8 134.3,352.1 133.5,353.4 132.5,354.5 131.9,355.9 131.0,357.1 130.8,358.6 131.2,360.0 131.2,361.6 131.5,363.0 131.7,364.6 130.8,365.2 129.6,365.9 128.3,367.0 126.7,366.6 125.1,366.5 123.8,367.5 122.3,367.7 120.9,368.3 119.8,369.3 118.0,369.1 116.6,369.6 115.7,371.3 114.4,372.0 112.8,372.1 111.4,372.7 110.0,373.3 108.9,374.3 107.7,375.4 106.1,375.6 104.7,376.1 103.6,377.2 102.6,378.3 101.5,379.4 100.2,380.2"/>
<polyline points="328.6,301.4 328.4,302.9 328.9,304.5 327.8,305.9 327.6,307.4 327.8,308.9 328.1,310.5 326.9,311.8 326.5,313.3 327.2,314.9 326.2,316.3 326.0,317.8 325.7,319.3 325.6,320.8 325.4,322.3 325.1,323.8 325.3,325.3 324.4,326.8 325.3,328.2 325.7,329.7 325.5,331.2 326.3,332.6 326.4,334.2 327.3,335.4 327.7,336.9 328.4,338.2 329.0,339.6 329.6,341.0 331.0,341.9 331.2,343.7 332.3,344.7 333.9,345.2 334.8,346.4 335.9,347.5 337.4,348.0 339.0,347.1 340.4,348.0 341.9,348.2 343.3,347.5 344.8,347.2 346.2,346.4 347.9,346.6 348.8,345.6 349.0,344.1 349.0,342.6 349.6,341.2 351.3,340.8 351.9,339.1 353.3,338.4 354.8,338.1 356.1,337.2 357.4,336.5 358.7,335.8 360.3,335.5 361.4,334.3 363.0,334.2 364.4,333.7 365.5,332.4 367.1,332.3 368.5,331.8 369.9,331.2 371.1,330.1 372.6,330.1 373.8,331.2 375.5,331.3 376.6,332.2 378.0,332.6 379.4,332.2 380.7,331.5 381.6,330.1 382.9,329.4 384.4,328.9 385.9,328.9 387.0,327.3 388.5,327.0 390.3,327.5 391.3,326.1 392.6,325.2 393.9,324.5 395.4,324.1 396.6,323.3 398.1,323.4 399.6,324.0 401.1,323.7 402.5,324.5 404.1,324.5 405.6,324.8 406.9,325.6 408.3,326.1 409.6,326.8 411.2,326.8 412.5,327.9 413.9,328.4 415.3,329.0 416.3,330.2 418.0,330.3 419.2,331.3 420.5,332.3 420.6,330.9 419.7,329.5 419.5,328.0 420.4,326.5 419.8,325.1 421.1,324.2 422.6,323.8 423.9,323.1 425.1,322.4 426.6,322.8 427.5,324.1 428.9,324.8 430.0,325.8 431.4,326.4 432.9,326.7 434.0,328.2 435.5,328.3 437.0,328.5 438.4,328.5 440.0,328.7 441.4,328.4 442.8,327.4 444.4,328.2 445.9,327.7 447.4,327.7 448.9,328.0 450.4,327.7 452.0,327.8 453.5,327.7 454.9,328.5 456.5,328.0 458.0,328.1 459.4,329.0 461.0,328.7 462.4,329.1 464.0,328.9 465.4,329.4 466.9,329.8 468.4,329.7 469.9,329.9 471.2,329.2 473.0,329.5 474.1,328.4 475.5,327.3 476.8,328.5 478.3,328.9"/>
<polyline points="348.6,346.2 347.6,347.3 346.7,348.5 345.3,349.3 345.0,351.0 343.3,351.5 342.6,352.9 341.5,354.0 340.7,355.3 339.4,356.1 338.4,357.1 336.9,357.7 336.6,359.7 334.7,359.8 333.6,360.8 332.5,361.9 331.3,362.8 329.6,362.6 328.4,363.7 326.9,364.0 325.9,365.4 324.1,365.1 322.8,365.7 321.5,366.7 320.2,367.4 318.5,367.1 317.4,368.5 315.8,368.5 314.7,369.6 313.2,370.0 311.8,370.6 310.5,371.3 309.4,372.4 307.7,372.5 306.7,373.8 305.1,374.0 304.1,375.3 302.9,376.1 301.4,376.6 300.1,377.0 298.7,378.1 297.2,377.0 295.8,377.7 294.3,378.0 293.1,379.1 291.7,379.5 290.2,379.6 288.7,380.0 287.5,381.5 285.9,380.7 284.4,380.9 282.9,381.3 281.4,381.6 279.9,381.6 278.6,382.2 277.0,382.5 276.1,383.9 274.5,384.0 273.1,384.7 271.8,385.2 270.2,385.3 268.8,385.7 267.3,386.2 265.8,385.6 264.3,386.2 262.8,386.4 261.3,386.0 259.8,385.9 258.4,385.6 257.0,385.1 255.6,384.5 254.5,383.2 252.9,383.4 251.3,383.5 250.1,382.2 248.7,381.9 247.0,381.8 246.5,380.3 246.1,379.9 245.6,381.4 245.6,382.9 245.9,384.4 245.0,385.8 245.0,387.3 244.5,388.5 242.9,388.2 241.4,388.4 239.9,388.4 238.7,387.9 237.4,387.3 237.0,385.8 236.5,384.3 235.8,383.0 234.9,381.8 234.1,380.5 233.3,379.2 233.3,377.5 231.5,376.8 230.9,375.4 230.7,373.8 229.8,372.6 228.5,371.7 227.9,370.3 226.4,370.0 225.1,369.0 223.4,369.4 222.1,368.6 220.8,367.7 219.4,367.4 217.7,367.5 216.6,366.2 214.9,366.4 213.8,365.2 212.3,364.9 210.9,364.2 209.6,363.5 208.5,362.5 206.8,362.4 205.7,361.3 204.0,361.4 202.9,360.2 201.4,359.9 199.8,359.8 198.4,359.4 197.3,357.9 195.5,358.5 194.2,357.7 192.8,357.2"/>
<polyline points="340.0,355.7 340.1,357.2 340.6,358.7 340.2,360.2 340.5,361.7 341.4,363.1 340.8,364.7 340.1,366.2 341.3,367.7 341.4,369.2 340.1,370.7 340.3,372.2 340.9,373.7 340.3,375.2 340.0,376.7 340.0,378.2 339.4,379.6 339.4,381.1 339.6,382.7 339.0,384.1 338.2,385.4 337.7,386.8 337.2,388.3 336.8,389.8 335.8,390.9 334.3,391.4 333.4,392.7 332.6,394.1 331.0,394.5 329.6,395.2 328.8,396.6 327.6,397.5 326.7,398.7 325.9,400.0 324.6,400.9 323.7,402.2 324.1,403.6 324.1,405.1 323.9,406.6 324.5,408.0 324.8,409.5 324.9,411.0 324.8,412.5 323.8,413.8 323.1,415.2 323.7,416.9 323.2,418.3 321.8,419.5 321.7,421.1 321.8,422.7 320.8,423.9 320.1,425.2 319.6,426.7 318.6,427.8 318.1,429.2 317.8,430.8 316.9,432.0 315.7,433.1 314.9,434.3 314.3,435.7 313.4,437.0 311.9,437.7 310.7,438.7 310.5,440.4 309.6,441.6 307.9,442.2 307.3,443.6 306.8,445.1 305.3,445.9 304.6,447.3 304.3,448.9 302.5,449.5 301.7,451.0 303.6,452.1 304.0,453.6 303.4,455.4 304.6,456.6 305.9,457.7 305.9,459.3 306.3,460.8 307.0,462.1 307.6,463.5 308.2,464.9 308.8,466.2 309.2,467.7 308.9,469.2 308.6,470.6 308.9,472.2 309.1,473.7 308.0,475.2 307.9,476.8 309.8,477.7 310.3,479.1 309.9,481.0 311.1,482.0 312.4,483.1 312.4,484.8 312.8,486.1 313.5,487.6 313.0,489.2 313.5,490.7 314.9,491.7 315.1,493.2 315.2,494.9 316.2,496.1 317.2,497.3 317.7,498.7 318.1,500.2 318.8,501.5"/>
<polyline points="341.0,376.7 342.5,376.8 344.0,377.3 345.5,377.4 347.0,377.0 348.5,377.3 350.0,377.9 351.5,377.6 352.9,376.9 354.4,376.8 356.0,377.0 357.5,376.7 358.8,376.0 360.1,375.1 361.5,374.9 362.4,376.3 363.1,377.7 364.5,378.4 366.1,379.0 366.8,380.3 367.8,381.6 369.4,381.9 371.0,381.8 372.4,382.4 373.6,383.4 374.9,384.2 376.4,384.6 378.0,384.3 379.5,384.3 380.9,385.3 382.3,386.1 383.9,385.6 384.9,384.2 386.5,384.1 388.2,384.1 389.4,383.2 390.5,381.9 391.9,381.3 393.4,381.1 395.0,381.0 396.4,380.5 397.5,379.3 399.1,378.4 400.1,379.8 400.7,381.3 402.3,381.8 403.9,382.4 404.6,383.8 405.4,385.2 406.8,385.8 408.3,386.3 409.7,386.9 410.8,387.5 412.3,387.2 413.7,386.7 414.8,385.5 415.9,384.4 417.6,384.3 419.1,384.0 420.1,382.7 421.0,381.4 422.4,380.7 423.6,379.9 424.6,378.8 425.8,377.8 426.9,376.8 427.9,375.7 429.1,374.8 430.4,373.9 431.2,372.6 432.2,371.4 433.5,370.6 434.5,369.5 435.4,368.2 436.6,367.3 437.9,366.8 439.2,365.9 440.5,365.1 442.0,364.9 443.5,364.6 444.8,363.8 446.2,363.1 447.7,362.8 449.1,362.5 450.6,362.2"/>
<polyline points="405.0,384.4 404.6,385.9 403.9,387.3 404.9,389.0 404.4,390.5 403.3,391.6 402.0,392.3 401.0,393.5 400.8,395.4 399.3,396.0 398.0,397.0 397.1,398.1 396.4,399.5 396.1,401.2 394.5,401.9 394.0,403.3 393.8,404.8 393.2,406.2 393.2,407.8 392.3,409.1 392.3,410.7 391.9,412.1 390.9,413.4 390.9,415.0 390.5,416.4 390.6,418.0 389.7,419.3 388.5,420.5 388.6,422.1 388.2,423.6 387.9,425.1 386.5,426.1 385.4,427.3 385.9,429.1 385.6,430.6 385.2,432.0 384.2,433.4 384.1,434.9 385.0,436.5 384.6,438.0 384.6,439.5 384.3,441.0 384.3,442.5 384.7,444.0 384.2,445.5 384.9,447.0 385.0,448.5 384.9,450.0 385.1,451.5 384.8,453.0 386.0,454.4 386.0,456.0 385.1,457.4 384.9,458.9 384.8,460.4 385.7,462.0 385.0,463.5 384.0,464.9 384.2,466.3 383.1,466.7 381.6,467.4 380.1,466.6 379.2,467.9 379.4,469.5 378.9,470.9 379.8,472.2 380.0,473.7 380.7,475.1 381.7,476.2 381.9,477.8 382.9,479.0 383.2,480.4 383.0,482.0 382.6,483.4 381.4,484.7 381.9,486.3 381.7,487.8 381.3,489.3 380.7,490.7 379.9,492.1 380.9,493.8 380.8,495.3 380.2,496.7 379.5,498.0 378.7,499.3 378.8,501.0 377.8,502.2"/>
<polyline points="385.6,428.9 384.6,430.1 383.1,430.6 382.2,431.9 380.7,432.5 379.8,433.8 378.7,434.9 377.0,434.7 375.9,436.0 374.3,436.0 373.3,437.5 371.4,437.2 370.6,438.6 369.9,439.9 369.1,441.2 368.4,442.5 367.3,443.7 367.3,445.3 366.9,446.7 365.9,448.0 365.8,449.5 365.0,450.8 365.2,452.5 363.9,453.7 363.7,455.2 363.0,456.6 363.0,458.1 361.9,459.4 361.7,460.9 360.8,462.1 360.7,463.8 359.1,464.6 358.6,466.0 357.7,467.3 357.0,468.6 355.8,469.6 354.0,469.2 353.1,470.9 351.3,470.5 350.2,471.9 348.4,471.3 347.3,472.7 345.8,473.0 344.4,473.5 342.9,474.0 341.5,474.5 340.3,475.4 338.8,475.8 337.2,475.9 336.0,476.9 334.5,477.2 333.2,478.0 331.6,478.2 330.4,479.1 329.1,479.9 327.7,480.5 326.2,480.9 325.3,482.2 324.5,483.4 323.9,484.8 322.6,485.7 321.8,486.7 320.2,486.9 318.7,486.6 317.2,486.9 315.7,486.1 314.2,487.1 312.7,486.7"/>
<polyline points="238.3,388.3 238.2,389.8 238.7,391.3 239.4,392.7 239.1,394.3 238.8,395.9 239.3,397.3 240.0,398.7 240.7,400.1 240.7,401.6 241.0,403.2 242.2,404.3 242.2,406.0 242.7,407.4 243.7,408.6 243.6,410.3 244.6,411.5 244.8,413.1 245.2,414.5 246.7,415.6 246.3,417.3 245.5,418.5 245.8,420.2 245.3,421.6 245.3,423.2 244.1,424.5 243.6,426.0 245.1,427.4 245.3,428.9 244.9,430.5 244.8,432.0 245.2,433.5 246.3,434.9 246.2,436.4 245.5,438.0 245.5,439.5 246.1,441.0 246.3,442.5 245.4,444.0 245.5,445.5 245.6,447.0 245.6,448.5 245.9,450.1 244.9,451.5 245.1,453.1 245.3,454.6 244.2,456.0 244.6,457.6 243.9,459.0 243.0,460.2 242.8,461.8 241.5,463.1 243.1,464.1 244.4,465.0 244.3,467.0 245.3,468.0 246.0,469.4 246.5,470.8 246.8,472.3 246.0,474.0 246.7,475.3 247.3,476.9 245.8,477.8 244.2,478.3 242.9,479.1 242.3,480.6 241.9,482.1 240.9,483.3 239.9,484.6 240.4,486.1 242.0,487.1 242.3,488.6 242.5,490.3 244.1,490.8 245.3,491.8 246.9,492.1 248.1,492.9 249.3,494.0 250.7,494.5"/>
<polyline points="250.7,494.5 252.1,495.1 253.7,495.1 255.1,495.6 256.5,496.4 257.8,497.2 259.2,496.5 260.1,495.0 261.3,494.1 263.0,494.4 264.4,493.9 265.8,493.9 266.7,495.2 268.2,495.9 269.2,497.0 270.2,498.1 271.4,499.1 272.1,500.2 272.7,501.5 273.3,503.1 272.2,504.6 272.1,506.1 272.5,507.6"/>
<polyline points="250.7,494.5 250.7,496.1 249.4,497.4 249.1,499.0 249.0,500.6"/>
<polyline points="245.5,467.5 246.7,466.6 248.1,465.9 249.4,465.0 250.3,463.7 251.3,462.4 252.9,462.3 254.3,462.8 255.7,463.6 257.4,463.1 258.9,463.6 260.4,463.6 261.7,465.1 263.2,464.6 264.2,463.3 264.1,461.5 265.5,460.5 266.5,459.3 267.8,458.5 268.4,457.0 269.4,455.9 270.7,455.0 272.4,454.7 273.5,454.0 274.9,454.0 276.4,454.3 277.8,454.8 279.0,455.9 280.6,456.1 282.1,456.4 283.6,455.7 285.2,456.1 286.6,455.7 288.3,456.1 289.5,455.0 290.9,454.3 291.6,452.6 293.2,452.2 294.7,451.9 296.2,452.2 297.6,451.1 299.1,450.3 300.7,450.7 302.2,450.6"/>
<polyline points="192.8,357.2 192.1,358.5 191.2,359.7 190.7,361.2 190.0,362.5 188.9,363.6 188.2,364.9 187.4,366.2 186.4,367.3 185.6,368.6 184.5,369.7 183.2,370.6 182.6,372.0 182.0,373.5 180.5,374.1 179.4,375.2 179.1,376.8 179.0,377.8 179.2,379.3 180.1,380.5 181.2,381.6 181.9,382.9 182.6,384.3 183.1,385.7 184.0,386.9 185.2,388.0 185.7,389.4 185.7,391.1 186.6,392.3 187.6,393.5 187.8,395.1 188.4,396.4 189.5,397.5 190.0,399.0 190.8,400.2 191.3,401.6 190.9,403.1 190.1,404.6 190.2,406.1 190.6,407.6 191.1,408.9 191.4,410.4 191.4,412.0 192.3,413.2 193.8,414.2 194.1,415.7 193.5,417.5 194.2,418.9 195.4,420.1 195.5,421.6 195.5,423.2 195.9,424.6 196.1,426.1 196.8,427.5 197.8,428.7 198.0,430.2 198.0,431.8 198.9,433.1 199.9,434.3 200.9,435.4 201.5,436.8 201.8,438.4 202.9,439.5 204.8,440.1 205.1,441.7 204.3,443.1 203.5,444.0 203.2,445.8 202.2,446.9 200.8,447.6 199.6,448.6 198.7,449.8 198.2,451.3 197.7,452.5 197.0,453.9 196.6,455.4 196.9,456.9 197.0,458.4 197.1,459.9 197.1,461.4 196.5,462.9 196.5,464.4 197.8,465.9 197.3,467.5 195.4,468.0 194.6,469.4 193.9,470.7"/>
<polyline points="101.7,420.0 103.1,419.3 104.6,419.2 105.8,418.1 107.4,417.9 108.7,417.3 110.4,417.5 111.4,415.8 112.9,415.6 114.5,415.5 116.1,415.4 117.1,413.8 118.8,413.9 120.1,413.2 121.5,412.6 122.9,412.2 123.9,413.6 125.8,413.4 127.0,414.3 127.7,415.9 128.9,416.8 130.7,417.0 131.3,418.6 132.2,419.8 133.6,420.5 134.8,421.2 136.3,421.5 137.8,420.6 139.3,420.8 140.8,421.8 142.2,421.5 143.9,421.6 145.0,422.7 146.1,423.8 147.8,423.9 149.0,424.8 150.5,425.1 152.0,425.3 153.5,425.8 154.6,427.1 156.3,426.7 157.8,427.0 159.2,427.5 160.8,427.7 161.8,426.4 163.3,426.0 164.4,424.8 166.0,424.7 167.4,424.1 168.9,424.4 170.3,423.4 171.9,423.5 173.2,422.8 174.9,423.0 176.1,421.9 177.5,421.4 179.0,421.2 179.2,423.2 180.5,424.0 181.4,425.2 182.8,425.3 184.3,425.9 185.8,425.2 187.3,426.0 188.7,425.9 190.3,426.0 191.8,426.2 192.8,428.0 194.5,427.7 196.0,427.8 197.4,428.5 198.8,429.2 200.4,428.7 201.8,429.6 203.3,429.8 204.9,429.3 206.3,429.7 207.8,430.9 209.3,430.2 210.9,429.6 212.3,430.6 213.8,430.8 215.3,430.4 216.5,429.7 217.7,428.8 218.2,427.2 219.7,426.6 221.1,425.8 221.8,424.3 222.6,422.9 224.5,423.2 225.8,422.4 227.1,421.7 228.3,420.7 229.8,420.2 230.6,418.8 232.3,418.5 233.2,417.4 234.5,418.0 236.1,418.2 236.8,419.9 238.3,420.4 239.5,421.4 241.2,421.5 242.1,422.9 243.2,423.9 244.2,425.0"/>
<polyline points="124.5,213.0 126.0,213.0 127.5,213.5 129.0,213.6 130.5,213.2 132.0,214.0 133.4,213.5 135.0,213.8 136.2,212.8 137.7,212.9 139.2,213.3 140.7,213.4 142.0,214.4 143.9,213.7 144.6,215.4 145.9,216.2 147.0,217.2 148.0,218.3 149.1,219.3 149.3,221.2 151.1,221.3 152.2,222.3 153.8,222.4 155.2,222.8 156.6,223.5 158.2,223.4 159.5,224.0 161.1,224.3 162.2,225.5 163.8,225.5 165.3,225.8 166.5,226.9 167.9,227.5 169.4,227.7 170.9,228.1 172.0,229.3 173.3,229.9 174.9,230.3 176.2,231.0 177.4,231.9 178.9,232.4 179.9,233.5 181.5,233.8 182.7,234.7 183.8,235.7 185.2,236.5 186.5,237.2 188.0,237.4 188.9,239.2 190.6,238.7 192.1,239.1 193.5,239.6 195.0,240.1 196.4,240.8 197.9,239.9 199.4,241.1 200.9,240.3 202.4,240.8 203.9,240.7 205.4,240.2 206.9,240.8 208.4,240.2 210.0,240.6 211.3,239.3 212.9,239.9 214.4,240.0 215.9,239.1 217.3,239.7 218.8,240.1 220.1,241.1 221.7,240.7 223.1,241.4 224.5,242.0 226.0,242.3 227.4,242.9 228.9,243.1 230.3,243.5 231.7,244.2 233.1,244.7 234.7,244.8 236.1,245.2 237.4,246.0 238.8,246.7 240.5,246.2 241.8,247.2 243.2,247.8 244.5,247.3 245.5,246.1 246.3,244.9 248.0,244.4 248.5,242.7 250.1,242.4 251.0,241.1 252.3,240.3 253.9,239.9 254.8,238.6 256.1,237.8"/>
<polyline points="117.2,300.6 118.7,300.8 120.1,301.5 121.7,301.1 123.1,301.8 124.6,302.0 125.6,303.2 126.4,304.5 127.4,305.6 128.9,306.2 130.4,306.6 131.1,308.3 132.6,308.8 133.9,309.6 135.4,308.7 137.0,309.0 138.4,308.6 140.0,309.0 141.4,308.5 142.8,307.6 144.3,307.3 145.9,307.5 147.4,307.6 148.6,306.1 150.2,306.1 151.5,305.5 153.2,305.6 154.4,304.7 155.9,304.3 157.1,303.2 158.6,302.8 160.2,303.0 161.6,302.3 162.9,301.5 164.2,300.7 166.0,301.1 167.0,299.8 168.3,299.0 169.3,297.8 170.6,297.1 171.7,295.9 173.2,296.3 174.7,296.3 176.2,295.8 177.8,296.1 179.3,296.1 180.8,296.3 182.1,295.5 183.8,295.8 185.0,294.8 186.4,294.2 187.8,293.6 189.4,293.6 190.7,292.9 192.1,292.1 193.6,292.0 194.9,291.2 196.5,291.2 197.9,290.6 199.5,290.5 200.6,289.0 202.2,289.5 203.6,290.2 205.1,290.6 206.7,290.3 208.1,290.7 209.5,291.6 211.0,291.8 212.4,292.4 214.0,291.8 215.5,292.1 217.0,292.2 218.4,293.5 220.0,292.7 221.4,292.1 222.9,291.9 224.5,292.3 225.8,292.1 227.2,292.4 228.3,293.5 229.8,294.0 230.5,295.5 231.8,296.4 233.1,297.2 234.9,297.0 235.9,298.3 237.2,299.0"/>
<polygon points="155.5,103.7 156.8,102.8 158.2,103.2 159.6,103.5 161.1,104.0 161.9,105.2 162.8,106.3 163.3,107.8 163.5,109.2 164.8,110.1 166.1,110.8 167.4,110.2 168.8,109.3 170.1,110.3 171.3,111.1 173.0,111.2 173.9,112.2 175.2,112.5 176.4,111.5 177.6,110.6 179.0,110.0 180.2,109.2 181.4,109.8 182.5,110.8 183.6,111.1 184.8,110.6 186.2,110.7 187.6,110.8 188.9,111.0 190.3,110.3 190.7,108.8 191.1,107.4 191.5,105.9 191.8,104.4 192.6,103.1 193.2,101.8 193.5,100.3 194.0,98.9 194.9,97.6 196.0,96.6 197.2,95.7 198.1,94.5 199.3,93.6 200.8,94.1 202.2,94.2 203.7,93.8 205.1,94.2 206.6,94.4 208.0,94.4 209.4,94.7 210.9,94.5 212.2,93.7 213.8,93.8 215.2,94.0 216.6,94.7 217.8,95.6 219.2,96.2 219.9,97.6 220.3,99.0 221.4,100.0 222.7,100.6 223.8,101.9 225.2,102.4 226.8,102.5 228.1,103.4 229.2,104.3 230.1,105.3 230.7,106.7 231.5,108.0 231.8,109.4 232.7,110.7 233.9,111.5 234.9,112.7 235.8,113.9 237.2,114.6 238.2,115.7 239.1,117.0 240.5,117.7 241.8,118.4 243.0,119.3 244.4,120.0 245.3,121.1 245.9,122.5 247.0,123.6 248.0,124.8 248.8,126.1 249.6,127.3 250.6,128.4 252.0,129.1 253.5,129.5 254.5,130.7 255.6,131.7 257.1,132.3 258.1,133.4 259.1,134.6 260.5,135.2 261.7,136.1 262.6,137.4 263.6,138.4 264.4,139.6 265.5,140.8 266.1,142.2 266.1,143.8 267.0,145.1 268.3,146.1 268.6,147.6 269.2,149.0 270.3,150.0 271.5,150.9 272.7,151.8 274.1,152.4 275.5,153.1 276.3,154.3 276.9,155.7 277.5,157.1 278.7,158.2 279.4,159.5 279.0,161.2 279.5,162.6 280.7,163.6 281.5,164.9 282.6,165.9 283.7,167.0 284.4,168.4 285.4,169.4 286.6,170.3 287.8,171.3 289.1,172.1 290.3,173.0 291.5,174.0 292.8,173.3 294.1,172.5 295.4,171.8 296.5,170.7 297.8,170.0 299.1,169.3 300.3,168.4 301.7,168.0 303.0,167.4 303.7,166.1 304.2,164.7 304.0,163.3 304.2,161.9 305.5,161.1 306.6,160.1 308.1,159.9 309.5,160.3 310.7,161.0 312.2,161.5 313.1,162.8 313.9,164.2 315.4,164.8 316.6,165.6 317.5,166.9 318.4,168.1 319.5,169.2 320.6,170.1 321.7,171.2 322.4,172.5 323.3,173.8 324.3,174.9 324.9,176.3 325.8,177.5 326.7,178.7 326.9,180.3 327.2,181.8 328.0,183.1 328.4,184.5 329.2,185.8 330.2,186.9 330.7,188.4 331.3,189.8 332.4,190.9 333.3,192.1 334.3,193.2 335.2,194.4 336.1,195.6 337.4,196.4 338.6,197.3 339.5,198.5 341.0,199.0 342.5,199.4 343.6,200.4 345.1,200.9 346.3,200.2 347.6,199.5 349.0,199.0 350.3,198.2 351.4,197.1 352.5,198.2 353.0,199.7 353.4,201.2 354.6,202.1 355.8,203.1 356.5,204.4 357.8,205.3 359.0,206.3 359.7,207.6 360.8,208.7 362.1,209.5 363.2,210.5 364.3,211.3 365.8,211.6 367.3,211.6 368.8,211.1 370.3,211.3 371.7,211.8 373.2,211.9 374.7,212.2 376.2,212.4 377.8,212.3 379.1,213.1 380.3,214.1 381.8,214.4 383.2,214.9 384.3,215.9 385.4,216.9 386.3,218.2 387.1,219.4 388.1,220.5 388.9,221.8 389.7,223.1 390.3,224.4 390.3,226.1 391.0,227.4 392.2,228.6 392.3,230.1 392.3,231.7 393.4,232.8 394.5,233.8 395.5,235.0 396.6,236.0 397.7,237.0 398.8,238.0 399.7,239.2 400.6,240.5 402.1,241.1 403.4,241.9 404.0,243.4 405.1,244.5 406.6,245.0 407.7,246.1 408.7,247.2 409.9,248.2 410.9,249.3 412.1,250.2 413.3,251.1 414.4,252.1 415.6,253.0 416.6,254.1 417.6,255.4 419.0,255.1 420.2,254.3 421.7,254.0 423.0,253.4 424.4,254.0 425.7,254.8 427.2,254.9 428.7,255.5 429.4,257.0 430.5,258.1 431.7,258.9 432.9,259.9 433.9,260.9 434.6,262.3 435.6,263.5 436.8,264.4 437.5,265.8 438.4,267.0 439.9,267.6 440.9,268.7 441.8,270.0 443.3,270.6 444.5,271.6 444.6,273.2 444.8,274.7 445.3,276.1 446.1,277.4 446.8,278.8 446.8,280.4 447.2,281.8 448.2,283.0 448.4,284.6 448.9,286.0 449.9,287.2 450.2,288.7 450.3,290.2 451.1,291.6 451.8,292.9 452.3,294.3 452.8,295.7 453.0,297.3 453.7,298.6 454.9,299.5 456.0,300.5 457.1,301.5 458.3,302.5 459.3,303.7 460.6,304.4 461.8,305.3 462.4,306.8 463.3,308.0 464.5,309.0 465.3,310.2 466.3,311.3 467.7,312.1 468.7,313.2 469.8,314.2 470.9,315.2 472.3,315.7 473.9,315.6 475.3,316.2 476.7,317.0 478.3,316.7 479.7,317.2 480.6,318.6 481.8,319.5 482.9,320.3 482.7,321.9 482.7,323.4 482.9,324.9 482.3,326.2 481.0,327.0 479.6,327.6 478.4,328.5 477.6,330.0 476.3,330.7 474.7,331.1 473.8,332.4 473.8,333.9 473.3,335.4 473.3,336.9 472.9,338.4 472.0,339.5 471.3,340.8 470.4,342.1 469.5,343.2 468.3,344.1 466.9,344.7 465.6,345.4 464.5,346.5 463.2,347.3 461.9,348.1 460.8,349.2 459.4,349.7 458.2,350.6 457.4,352.0 456.0,352.8 454.5,353.3 453.6,354.5 452.7,355.8 451.7,356.9 450.6,357.9 450.1,359.3 450.1,360.8 449.9,362.3 449.3,363.7 449.3,365.3 449.3,366.8 448.2,368.2 448.4,369.6 450.1,370.3 451.2,371.3 452.0,372.6 452.5,373.8 452.4,375.2 452.4,376.7 452.1,378.2 451.6,379.6 451.5,381.2 451.3,382.6 450.6,384.0 450.7,385.6 451.4,386.9 451.4,388.5 451.8,389.9 452.5,391.3 453.0,392.7 453.6,394.1 454.0,395.5 453.8,397.1 454.2,398.5 454.6,400.0 454.7,401.5 455.0,403.0 454.9,404.5 455.0,406.0 455.8,407.4 456.1,408.8 456.3,410.3 457.7,410.9 459.1,411.6 460.2,412.7 461.6,413.2 463.1,413.4 464.5,414.1 465.2,414.6 464.2,415.6 463.6,417.0 462.8,418.3 461.3,419.1 460.2,420.1 459.7,421.7 458.7,422.8 457.6,423.8 457.0,425.2 456.2,426.5 455.0,427.5 454.3,428.9 454.4,430.4 454.3,431.9 453.9,433.4 453.4,434.8 453.5,436.3 453.8,437.9 453.0,439.2 451.7,440.1 450.9,441.4 449.8,442.4 448.7,443.4 447.9,444.7 446.6,445.5 445.4,446.5 444.5,447.7 443.5,448.8 442.4,449.9 441.4,451.0 440.3,452.0 439.5,453.3 438.9,454.7 438.0,455.9 437.3,457.2 436.7,458.5 435.9,459.9 436.2,461.5 436.5,463.0 435.7,464.4 435.2,465.9 435.2,467.4 435.0,468.9 434.6,470.3 433.7,471.3 432.3,471.8 430.9,472.4 429.4,472.6 427.9,473.0 426.9,474.2 425.5,474.8 423.8,474.8 422.6,475.7 421.5,476.9 420.0,477.4 418.7,477.9 417.5,479.0 416.5,480.0 415.6,481.3 414.4,482.2 413.3,483.2 412.4,484.4 411.3,485.5 410.4,486.7 410.0,488.2 409.2,489.4 408.0,490.4 406.9,491.2 405.5,491.5 404.0,491.8 402.6,492.4 401.1,492.5 399.5,492.5 398.1,493.0 396.7,493.4 395.3,494.0 393.9,494.5 392.3,494.7 391.0,495.4 389.7,496.3 388.2,496.5 386.8,497.1 385.6,498.1 384.1,498.4 382.7,498.9 381.6,500.0 380.3,500.8 378.8,501.1 377.5,501.9 376.4,503.0 375.6,504.3 374.3,505.2 372.8,505.7 371.8,506.7 370.5,507.6 369.0,507.7 367.6,508.3 366.3,509.2 364.8,509.4 363.3,509.7 362.0,510.5 360.6,511.1 359.2,511.6 357.6,511.8 356.1,512.2 355.1,513.4 354.0,514.4 352.5,514.9 351.3,515.8 350.1,516.6 349.2,515.5 347.9,514.7 346.7,513.7 346.0,512.3 344.7,511.6 343.2,511.1 341.9,510.3 340.4,510.3 338.9,510.3 337.4,510.1 335.9,510.1 334.4,510.1 333.0,510.5 331.5,510.9 329.9,510.6 328.5,510.5 327.1,510.9 326.1,509.6 325.8,508.0 324.8,506.8 323.8,505.8 322.7,504.7 321.6,503.8 320.4,502.9 319.2,502.0 317.9,501.4 316.4,500.8 314.9,500.9 313.3,501.4 311.9,500.6 310.5,500.0 308.9,500.3 307.4,500.3 306.0,499.9 304.5,499.8 303.0,499.7 301.5,499.7 300.0,499.9 298.5,499.6 297.0,499.6 295.5,499.4 294.0,498.8 292.5,498.8 291.2,499.8 289.7,500.1 288.3,500.5 287.0,501.2 285.5,501.5 284.2,502.3 283.0,503.3 281.5,503.6 280.0,504.0 278.8,504.9 277.5,505.7 276.2,506.5 274.8,507.0 273.3,507.4 272.1,508.4 270.8,509.1 269.3,509.4 268.0,510.3 266.6,510.9 265.0,510.8 263.7,511.5 262.3,512.2 260.8,511.5 259.5,510.7 258.1,510.1 256.6,510.0 255.1,510.1 253.6,509.6 252.4,508.9 251.1,508.2 250.1,507.1 249.2,505.7 247.7,505.3 246.3,504.7 245.4,503.5 245.4,503.0 246.5,502.0 247.8,501.2 248.7,500.6 247.5,499.9 246.1,499.3 244.6,499.1 243.2,498.6 241.8,498.0 240.3,497.9 238.9,497.4 237.4,497.2 235.8,497.5 234.4,497.0 233.1,496.1 231.6,495.8 230.2,495.2 228.9,494.5 227.4,494.3 226.0,493.7 224.7,492.9 223.3,492.4 221.9,491.9 220.3,491.8 218.9,491.2 217.7,490.1 216.2,489.8 214.6,489.9 213.3,489.1 212.2,488.1 210.8,487.4 209.7,486.4 208.7,485.3 207.4,484.4 206.2,483.6 205.1,482.5 204.3,481.2 203.4,480.0 201.9,479.4 200.7,478.4 200.3,476.8 199.4,475.6 198.1,474.7 197.3,473.4 196.0,472.6 194.7,472.0 193.5,471.0 192.1,470.6 190.5,470.7 189.0,470.7 187.5,470.9 186.0,470.7 184.5,470.4 183.0,470.7 181.5,470.9 180.0,470.7 178.5,470.6 177.1,470.1 175.7,469.6 174.1,469.8 172.7,469.7 171.2,469.5 169.7,469.9 168.3,470.5 166.9,471.0 165.4,471.1 164.0,470.5 162.5,470.1 161.1,470.2 159.5,470.2 158.1,470.5 156.7,471.3 155.1,471.1 153.6,470.7 152.1,471.5 150.7,472.0 149.2,471.9 147.7,471.8 146.2,472.0 144.7,471.9 143.2,471.7 141.9,471.0 141.2,469.8 140.4,468.5 140.2,467.0 139.5,465.6 138.4,464.5 138.0,463.1 137.3,461.7 136.2,460.6 135.2,459.5 134.2,458.4 133.3,457.2 132.7,455.8 131.8,454.6 130.7,453.6 129.5,452.6 128.2,451.9 127.0,451.0 125.9,449.9 124.4,449.4 123.0,448.9 121.9,447.8 120.5,447.2 119.1,446.7 118.0,445.7 117.1,444.8 116.2,443.5 115.9,442.0 115.7,440.5 115.3,439.0 114.4,437.8 113.2,436.7 112.8,435.3 112.5,433.7 111.1,432.8 109.9,431.9 109.2,430.5 107.9,429.6 106.7,428.7 106.0,427.3 105.3,426.0 104.3,424.9 103.4,423.7 102.7,422.3 102.6,420.7 102.1,419.4 101.2,418.0 101.2,416.5 101.5,414.9 101.1,413.5 100.9,412.0 100.9,410.5 100.4,409.0 100.5,407.5 100.8,406.0 100.7,404.5 100.6,403.0 100.6,401.5 100.4,400.0 100.7,398.5 100.8,397.0 100.5,395.5 100.6,394.0 100.5,392.5 100.4,391.0 100.9,389.5 101.1,388.0 100.6,386.5 101.0,385.0 101.7,383.6 101.7,382.1 101.7,380.6 101.7,379.1 101.7,377.5 102.3,376.2 103.0,374.9 103.9,373.7 104.9,372.5 104.8,370.9 104.5,369.5 105.3,368.0 105.4,366.5 104.8,365.0 104.8,363.4 105.3,362.0 105.9,360.6 106.5,359.3 106.9,357.8 108.0,357.0 109.5,356.9 110.9,356.3 112.4,356.2 114.0,356.4 115.4,355.7 116.8,355.1 118.4,355.3 119.8,354.8 120.7,353.5 121.7,352.4 122.5,351.1 123.5,350.0 124.7,349.1 125.7,347.9 126.2,346.5 126.3,345.0 126.4,343.5 126.8,342.1 127.2,340.6 126.9,339.1 126.9,337.6 126.7,336.1 125.8,334.8 125.5,333.4 125.5,331.8 124.6,330.5 123.8,329.2 123.6,327.7 123.4,326.2 123.0,324.7 122.3,323.3 121.8,321.9 122.1,320.3 121.9,318.8 121.0,317.5 121.0,315.9 120.9,314.4 120.2,313.0 120.1,311.5 120.4,310.0 120.0,308.5 119.5,307.1 119.2,305.6 118.8,304.2 118.4,302.8 117.3,301.7 117.3,300.2 118.1,298.9 118.7,297.5 119.0,296.0 119.8,294.8 120.6,293.5 121.3,292.1 122.4,291.1 123.1,289.8 123.2,288.3 123.5,286.8 123.6,285.3 123.7,283.8 123.5,282.4 123.1,280.9 122.5,279.5 122.0,278.1 121.2,276.8 120.9,275.3 120.9,273.7 119.9,272.5 119.0,271.2 118.9,269.7 118.5,268.3 118.6,266.8 119.1,265.4 119.5,263.9 119.8,262.5 120.1,261.0 120.4,259.6 120.2,258.1 119.4,256.8 118.0,255.9 117.4,254.5 117.3,252.8 116.3,251.7 116.2,250.3 116.8,248.8 117.1,247.4 118.1,246.3 119.3,245.3 120.3,244.2 121.4,243.3 122.6,242.2 123.6,241.1 125.0,240.5 126.3,239.6 126.4,237.9 127.0,236.6 127.8,235.3 128.2,233.8 128.9,232.5 129.4,231.0 129.2,229.5 129.5,228.0 130.1,226.6 130.1,225.1 130.1,223.6 130.2,222.1 130.3,220.6 130.6,219.1 129.6,217.9 128.6,216.8 127.6,215.7 126.1,215.6 124.4,215.5 124.3,214.3 125.0,213.0 125.0,211.4 126.0,210.2 127.4,209.4 128.6,208.5 129.6,207.4 130.3,206.1 130.8,204.7 131.5,203.4 131.6,201.8 131.8,200.3 132.9,199.1 133.3,197.7 133.6,196.1 134.7,195.0 135.6,193.8 136.0,192.3 136.6,190.9 137.2,189.6 138.0,188.3 138.4,186.8 138.2,185.3 138.8,183.9 139.9,182.8 140.6,181.6 141.3,180.3 141.7,178.8 141.5,177.3 141.4,175.8 141.6,174.3 141.4,172.8 141.2,171.3 140.6,169.9 139.6,168.7 139.9,167.7 141.5,167.4 142.9,167.0 144.3,166.5 145.6,165.7 145.2,164.7 145.3,163.2 145.4,161.7 144.8,160.2 144.8,158.7 145.2,157.2 144.9,155.7 144.9,154.2 145.3,152.7 145.4,151.2 145.4,149.7 144.8,148.4 144.4,146.9 144.4,145.4 143.5,144.1 142.5,142.8 142.5,141.2 142.3,139.7 141.2,138.6 140.5,137.2 139.9,135.9 139.1,134.6 138.6,133.2 138.8,131.8 139.4,130.5 140.1,129.1 140.6,127.7 141.8,126.8 143.3,126.2 144.4,125.2 145.4,124.0 146.7,123.3 148.0,122.5 149.4,121.9 150.8,121.4 151.7,120.1 152.4,118.7 153.8,117.9 155.0,117.0 155.5,115.5 156.0,114.1 156.4,112.7 156.9,111.3 156.8,109.8 156.4,108.4 156.3,106.8 156.2,105.3 155.4,104.0"/>
</g>
<polygon points="138.3,168.1 139.3,167.1 144.0,167.1 147.9,166.7 150.7,168.1 151.7,170.5 151.2,173.3 148.8,170.5 144.0,169.5 140.2,170.5 138.3,170.0" fill="#595959" stroke="#595959" stroke-width="1"/>
<polygon points="138.3,189.5 141.2,187.6 145.5,188.6 146.9,189.5 144.0,192.4 147.9,195.2 142.1,194.3 138.3,193.3" fill="#595959" stroke="#595959" stroke-width="1"/>
<polygon points="145.0,149.0 148.0,148.5 150.0,151.5 147.0,152.5" fill="#595959" stroke="#595959" stroke-width="1"/>
<line x1="56.9" x2="60.1" y1="87.4" y2="87.4" stroke="#333" stroke-width="1.6"/>
<line x1="56.9" x2="60.1" y1="173.8" y2="173.8" stroke="#333" stroke-width="1.6"/>
<line x1="56.9" x2="60.1" y1="260.2" y2="260.2" stroke="#333" stroke-width="1.6"/>
<line x1="56.9" x2="60.1" y1="346.6" y2="346.6" stroke="#333" stroke-width="1.6"/>
<line x1="56.9" x2="60.1" y1="433.0" y2="433.0" stroke="#333" stroke-width="1.6"/>
<line x1="56.9" x2="60.1" y1="519.5" y2="519.5" stroke="#333" stroke-width="1.6"/>
<line x1="133.2" x2="133.2" y1="557.5" y2="560.9" stroke="#333" stroke-width="1.6"/>
<line x1="204.2" x2="204.2" y1="557.5" y2="560.9" stroke="#333" stroke-width="1.6"/>
<line x1="275.1" x2="275.1" y1="557.5" y2="560.9" stroke="#333" stroke-width="1.6"/>
<line x1="346.1" x2="346.1" y1="557.5" y2="560.9" stroke="#333" stroke-width="1.6"/>
<line x1="417.2" x2="417.2" y1="557.5" y2="560.9" stroke="#333" stroke-width="1.6"/>
<line x1="488.3" x2="488.3" y1="557.5" y2="560.9" stroke="#333" stroke-width="1.6"/>
<rect x="548" y="82.40" width="21" height="52.77" fill="#08306B"/>
<rect x="548" y="134.87" width="21" height="52.77" fill="#08519C"/>
<rect x="548" y="187.33" width="21" height="52.77" fill="#2171B5"/>
<rect x="548" y="239.80" width="21" height="52.77" fill="#4292C6"/>
<rect x="548" y="292.27" width="21" height="52.77" fill="#6BAED6"/>
<rect x="548" y="344.73" width="21" height="52.77" fill="#9ECAE1"/>
<rect x="548" y="397.20" width="21" height="52.77" fill="#C6DBEF"/>
<rect x="548" y="449.67" width="21" height="52.77" fill="#DEEBF7"/>
<rect x="548" y="502.13" width="21" height="52.77" fill="#F7FBFF"/>
</svg>
<div class="yl" style="top:79.5px">30S</div>
<div class="yl" style="top:165.9px">31S</div>
<div class="yl" style="top:252.3px">32S</div>
<div class="yl" style="top:338.7px">33S</div>
<div class="yl" style="top:425.1px">34S</div>
<div class="yl" style="top:511.6px">35S</div>
<div class="xl" style="left:103.6px">58W</div>
<div class="xl" style="left:174.6px">57W</div>
<div class="xl" style="left:245.5px">56W</div>
<div class="xl" style="left:316.5px">55W</div>
<div class="xl" style="left:387.6px">54W</div>
<div class="xl" style="left:458.7px">53W</div>
<div class="ll" style="top:74.5px">334.0</div>
<div class="ll" style="top:127.0px">298.0</div>
<div class="ll" style="top:179.4px">262.1</div>
<div class="ll" style="top:231.9px">226.1</div>
<div class="ll" style="top:284.4px">190.2</div>
<div class="ll" style="top:336.8px">154.2</div>
<div class="ll" style="top:389.3px">118.3</div>
<div class="ll" style="top:441.8px">82.4</div>
<div class="ll" style="top:494.2px">46.4</div>
<div class="ll" style="top:546.7px">10.5</div>
</body></html>
